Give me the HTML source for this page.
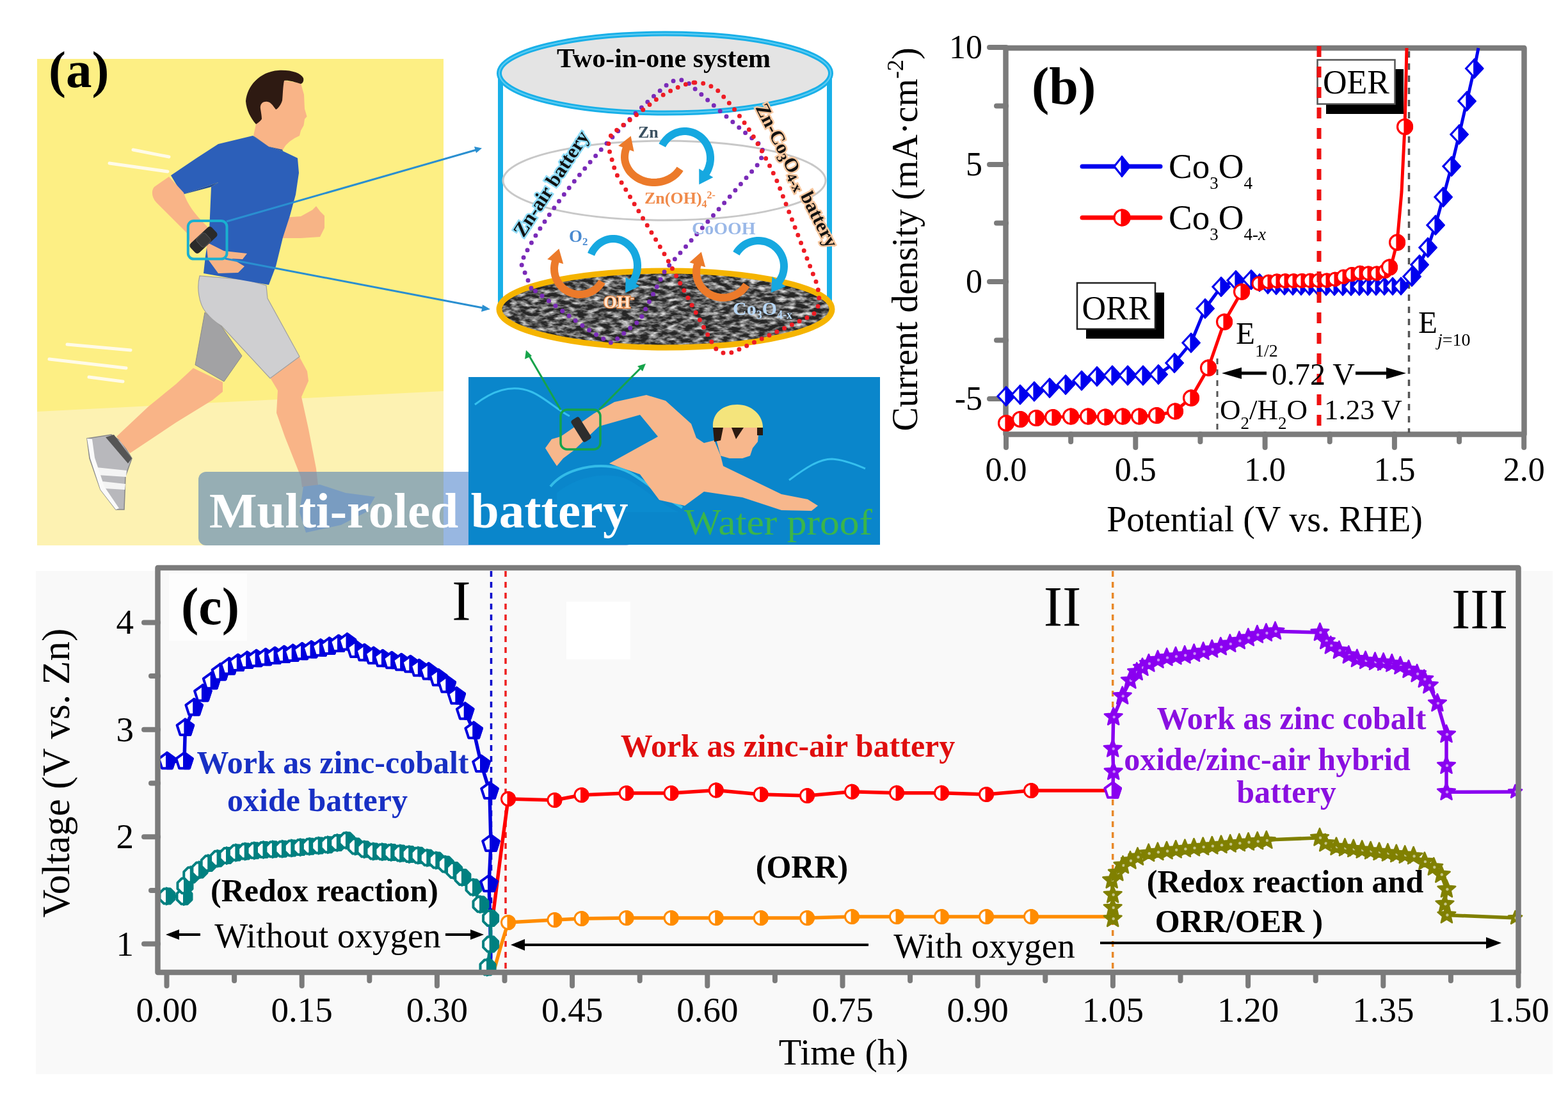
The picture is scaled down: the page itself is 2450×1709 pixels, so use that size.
<!DOCTYPE html>
<html><head><meta charset="utf-8"><title>Multi-roled battery figure</title>
<style>
html,body{margin:0;padding:0;background:#fff;}
body{width:2450px;height:1709px;overflow:hidden;}
svg{display:block;}
.s{font-family:"Liberation Serif","Times New Roman",serif;}
</style></head><body>
<svg width="2450" height="1709" viewBox="0 0 2450 1709">
<rect x="0" y="0" width="2450" height="1709" fill="#fff"/>
<rect x="56" y="892" width="2370" height="786" fill="#f9f9f9"/>
<rect x="58" y="92" width="635" height="760" fill="#fdef84"/>
<polygon points="58,643 693,611 693,852 58,852" fill="#fdf2b2"/>
<line x1="208" y1="234" x2="264" y2="245" stroke="#fffbe8" stroke-width="5" stroke-linecap="round"/>
<line x1="171" y1="255" x2="262" y2="268" stroke="#fffbe8" stroke-width="5" stroke-linecap="round"/>
<line x1="105" y1="538" x2="204" y2="547" stroke="#fffbe8" stroke-width="5" stroke-linecap="round"/>
<line x1="77" y1="561" x2="197" y2="575" stroke="#fffbe8" stroke-width="5" stroke-linecap="round"/>
<line x1="139" y1="589" x2="192" y2="596" stroke="#fffbe8" stroke-width="5" stroke-linecap="round"/>
<path d="M136,685 L174,679 L190,690 L206,716 L196,744 L194,796 L181,796 L157,765 L140,716 Z" fill="#b8b8bc" stroke="#888" stroke-width="1.5"/>
<path d="M165,683 L178,679 L206,716 L200,724 Z" fill="#555"/>
<path d="M150,730 L198,735 L197,745 L152,742 Z M160,752 L196,756 L195,765 L163,763 Z" fill="#f4f4f4"/>
<path d="M136,685 L141,716 L157,765 L181,796 L186,794 L163,760 L148,715 L144,686 Z" fill="#fafafa"/>
<path d="M302,575 L348,597 L348,612 L332,625 L275,660 L203,708 L182,682 L232,635 L275,600 Z" fill="#f9b487"/>
<path d="M422,590 L467,556 L480,580 L482,595 L471,620 L482,670 L494,732 L497,758 L472,761 L470,745 L445,682 L432,645 L434,610 Z" fill="#f9b487"/>
<path d="M474,760 L500,757 L540,770 L586,776 L572,800 L533,820 L478,832 L468,800 Z" fill="#9fb4de"/>
<path d="M320,488 L305,570 L350,596 L378,556 L346,510 Z" fill="#a2a2a4" stroke="#8a8a8a" stroke-width="1"/>
<path d="M312,431 C307,450 311,474 321,487 C329,497 337,504 346,509 L422,591 L468,557 L418,466 L416,446 L384,437 Z" fill="#cfcfd1" stroke="#a0a0a0" stroke-width="1.2"/>
<path d="M440,340 L470,338 L488,328 L494,322 L500,330 L507,337 L507,356 L500,370 L470,372 L440,372 Z" fill="#f7b486"/>
<path d="M267,274 L307,247 L341,225 L395,212 L420,229 L442,236 L465,247 L467,270 L462,304 L453,337 L442,371 L431,416 L420,445 L318,427 L321,400 L327,360 L330,292 L341,285 L285,304 Z" fill="#2c5fb9"/>
<path d="M285,304 L341,285 L330,292 L300,300 Z" fill="#1e4b9b"/>
<path d="M395,212 L420,229 L442,236 L440,230 L418,222 Z" fill="#1e4b9b"/>
<path d="M404,160 L420,150 L444,126 L470,130 L475,148 L476,170 L479.5,182 L476,186 L474.5,196 L470,204 L468,212 L460,216 C452,221 446,226 442,234 L420,229 L396,212 L400,194 L406,186 Z" fill="#f9b487"/>
<path d="M384,158 C386,135 405,112 435,110 C455,109 470,114 474,122 C475,127 473,130 470,131 C460,128 450,125 444,126 C442,135 442,148 441,157 C439,164 434,170 431,171 C427,166 424,160 418,159 C410,158 406,163 407,170 C408,176 409,182 409,186 C406,190 403,192 400,194 C392,185 385,172 384,158 Z" fill="#2e1a12"/>
<path d="M264,276 L287,301 C292,318 305,336 324,354 L326,380 L302,392 L292,364 L244,316 C237,308 236,298 241,292 Z" fill="#f9b487"/>
<path d="M322,378 L350,392 L386,396 L379,405 L362,404 L382,416 L372,426 L341,427 L325,405 Z" fill="#f7b486"/>
<g transform="translate(318,375) rotate(-43)"><rect x="-23" y="-10" width="46" height="20" rx="5" fill="#2a2a2a"/><rect x="-9" y="-9" width="18" height="18" rx="4" fill="#383838" stroke="#555" stroke-width="1"/></g>
<rect x="293.8" y="345" width="60.7" height="59.6" rx="9" fill="none" stroke="#1ab0d0" stroke-width="4"/>
<line x1="354" y1="346" x2="748" y2="233" stroke="#2a8fd0" stroke-width="3"/>
<polygon points="753,231.5 741,229 744,239" fill="#2a8fd0"/>
<line x1="352" y1="404" x2="760" y2="482" stroke="#2a8fd0" stroke-width="3"/>
<polygon points="766,483 754,476 752,487" fill="#2a8fd0"/>
<text x="76" y="135.5" class="s" font-weight="bold" font-size="81">(a)</text>
<defs><filter id="tex" x="0" y="0" width="100%" height="100%"><feTurbulence type="fractalNoise" baseFrequency="0.07 0.17" numOctaves="3" seed="7"/><feColorMatrix type="matrix" values="0 0 0 0 0.72  0 0 0 0 0.72  0 0 0 0 0.72  2.4 0 0 0 -0.9"/></filter><radialGradient id="topg" cx="0.5" cy="0.5" r="0.6"><stop offset="0" stop-color="#efefef"/><stop offset="1" stop-color="#d0d0d0"/></radialGradient><clipPath id="botclip"><ellipse cx="1040" cy="483" rx="258" ry="58"/></clipPath></defs>
<line x1="782" y1="114" x2="782" y2="478" stroke="#19b0e8" stroke-width="8"/>
<line x1="1296" y1="114" x2="1296" y2="478" stroke="#19b0e8" stroke-width="8"/>
<ellipse cx="1038" cy="282" rx="252" ry="62" fill="none" stroke="#c8c8c8" stroke-width="3"/>
<ellipse cx="1040" cy="483" rx="258" ry="58" fill="#6a6a6a"/>
<g clip-path="url(#botclip)"><rect x="780" y="420" width="520" height="125" fill="#262626"/><rect x="780" y="420" width="520" height="125" fill="#fff" filter="url(#tex)"/></g>
<ellipse cx="1040" cy="483" rx="260" ry="60" fill="none" stroke="#f5b400" stroke-width="9"/>
<ellipse cx="1039" cy="114.5" rx="259" ry="62" fill="#e4e4e4" stroke="#19b0e8" stroke-width="8"/><ellipse cx="1039" cy="114.5" rx="259" ry="62" fill="none" stroke="#7fd8f6" stroke-width="2" opacity="0.7"/>
<text x="1037" y="105" text-anchor="middle" class="s" font-weight="bold" font-size="42">Two-in-one system</text>
<path d="M830,450 L814,411 C850,330 960,200 1045,130 C1058,122 1068,124 1076,130 C1110,160 1160,205 1190,228 C1194,240 1190,250 1180,262 L1040,421 L1000,500 L956,536 C920,520 880,485 830,450 Z" fill="none" stroke="#7a2bb8" stroke-width="7" stroke-linecap="round" stroke-dasharray="0,13"/>
<path d="M1084,129 C1070,130 1050,140 1030,152 L955,210 L950,228 L962,270 L1040,400 L1115,540 C1122,552 1135,555 1150,548 L1270,492 C1282,480 1282,462 1275,440 L1215,285 C1190,230 1160,180 1120,140 C1108,132 1096,128 1084,129 Z" fill="none" stroke="#ee1c24" stroke-width="7" stroke-linecap="round" stroke-dasharray="0,13"/>
<polyline fill="none" stroke="#ec7a2a" stroke-width="12" points="1062.6,263.8 1060.9,266.4 1058.9,268.8 1056.8,271.2 1054.4,273.4 1051.9,275.4 1049.2,277.3 1046.3,279.0 1043.3,280.4 1040.2,281.7 1037.0,282.8 1033.7,283.7 1030.3,284.3 1026.9,284.8 1023.4,285.0 1020.0,285.0 1016.6,284.7 1013.1,284.3 1009.8,283.6 1006.5,282.7 1003.3,281.5 1000.2,280.2 997.2,278.7 994.4,277.0 991.7,275.1 989.2,273.0 986.9,270.8 984.7,268.5 982.8,266.0 981.1,263.3 979.7,260.6 978.4,257.8 977.4,254.9 976.7,252.0 976.2,249.0 976.0,246.0 976.1,243.0 976.4,240.1 976.9,237.1 977.7,234.2 978.8,231.3"/><polygon points="985.7,212.6 990.6,236.8 966.2,227.7" fill="#ec7a2a"/>
<polyline fill="none" stroke="#16a8e0" stroke-width="12" points="1034.7,227.3 1036.3,224.3 1038.2,221.5 1040.3,218.9 1042.6,216.4 1045.0,214.2 1047.7,212.2 1050.4,210.4 1053.3,208.8 1056.4,207.5 1059.5,206.5 1062.7,205.7 1065.9,205.2 1069.1,205.0 1072.4,205.1 1075.7,205.4 1078.9,206.0 1082.0,206.9 1085.1,208.1 1088.1,209.5 1090.9,211.2 1093.6,213.1 1096.2,215.2 1098.5,217.6 1100.7,220.1 1102.7,222.8 1104.5,225.7 1106.0,228.7 1107.3,231.9 1108.4,235.1 1109.2,238.4 1109.7,241.8 1110.0,245.2 1110.0,248.7 1109.7,252.1 1109.2,255.5 1108.4,258.8 1107.3,262.0 1106.1,265.2 1104.5,268.2 1102.8,271.1"/><polygon points="1092.3,288.2 1092.2,263.5 1114.4,277.0" fill="#16a8e0"/>
<polyline fill="none" stroke="#ec7a2a" stroke-width="12" points="940.6,440.0 939.1,442.5 937.3,444.8 935.4,447.1 933.4,449.2 931.2,451.1 928.8,452.8 926.4,454.4 923.8,455.8 921.1,457.0 918.4,458.0 915.5,458.8 912.7,459.4 909.8,459.8 906.8,460.0 903.9,459.9 901.0,459.7 898.1,459.2 895.2,458.5 892.5,457.6 889.7,456.5 887.1,455.3 884.6,453.8 882.2,452.1 879.9,450.3 877.7,448.3 875.7,446.1 873.9,443.8 872.2,441.4 870.7,438.9 869.5,436.3 868.4,433.5 867.5,430.8 866.8,427.9 866.3,425.0 866.1,422.1 866.0,419.2 866.2,416.2 866.6,413.3 867.2,410.5 868.0,407.6"/><polygon points="873.4,388.4 880.2,412.2 855.2,405.0" fill="#ec7a2a"/>
<polyline fill="none" stroke="#16a8e0" stroke-width="12" points="923.6,397.3 925.0,394.1 926.7,391.1 928.7,388.3 930.8,385.7 933.1,383.2 935.6,381.0 938.3,379.1 941.1,377.4 944.0,375.9 947.0,374.8 950.1,373.9 953.3,373.3 956.5,373.0 959.7,373.0 962.9,373.3 966.0,373.9 969.1,374.8 972.1,376.0 975.1,377.5 977.9,379.2 980.5,381.2 983.0,383.4 985.3,385.8 987.4,388.5 989.4,391.3 991.1,394.3 992.5,397.4 993.7,400.7 994.7,404.1 995.4,407.5 995.8,411.0 996.0,414.6 995.9,418.1 995.5,421.6 994.9,425.1 994.0,428.5 992.8,431.8 991.4,434.9 989.8,438.0 987.9,440.9"/><polygon points="977.1,457.6 977.6,433.0 999.4,447.1" fill="#16a8e0"/>
<polyline fill="none" stroke="#ec7a2a" stroke-width="12" points="1166.4,445.0 1164.7,447.5 1162.9,449.8 1160.9,452.1 1158.8,454.2 1156.4,456.1 1154.0,457.8 1151.4,459.4 1148.7,460.8 1145.9,462.0 1143.0,463.0 1140.0,463.8 1137.0,464.4 1134.0,464.8 1130.9,465.0 1127.8,464.9 1124.7,464.7 1121.7,464.2 1118.7,463.5 1115.8,462.6 1112.9,461.5 1110.2,460.3 1107.5,458.8 1105.0,457.1 1102.6,455.3 1100.3,453.3 1098.2,451.1 1096.3,448.8 1094.5,446.4 1093.0,443.9 1091.6,441.3 1090.5,438.5 1089.5,435.8 1088.8,432.9 1088.3,430.0 1088.1,427.1 1088.0,424.2 1088.2,421.2 1088.6,418.3 1089.2,415.5 1090.1,412.6"/><polygon points="1095.8,393.5 1102.2,417.3 1077.3,409.9" fill="#ec7a2a"/>
<polyline fill="none" stroke="#16a8e0" stroke-width="12" points="1150.4,396.0 1152.1,393.2 1154.1,390.6 1156.3,388.2 1158.7,385.9 1161.2,383.8 1163.9,382.0 1166.8,380.4 1169.8,379.0 1172.8,377.9 1176.0,377.0 1179.2,376.4 1182.5,376.1 1185.8,376.0 1189.0,376.2 1192.3,376.7 1195.5,377.4 1198.6,378.4 1201.7,379.6 1204.6,381.1 1207.4,382.8 1210.0,384.8 1212.5,386.9 1214.8,389.3 1216.9,391.8 1218.7,394.5 1220.4,397.3 1221.8,400.3 1223.0,403.4 1223.9,406.5 1224.5,409.7 1224.9,413.0 1225.0,416.3 1224.8,419.6 1224.4,422.8 1223.7,426.0 1222.8,429.2 1221.6,432.2 1220.1,435.1 1218.4,438.0 1216.5,440.6"/><polygon points="1204.9,456.9 1206.5,432.2 1227.7,447.4" fill="#16a8e0"/>
<text x="997" y="215" class="s" font-weight="bold" font-size="26" fill="#3a5060">Zn</text>
<text x="1007" y="318" class="s" font-weight="bold" font-size="26" fill="#f08a4a">Zn(OH)<tspan font-size="16" dy="6">4</tspan><tspan font-size="16" dy="-14">2-</tspan></text>
<text x="1081" y="366" class="s" font-weight="bold" font-size="28" fill="#9ab8e8">CoOOH</text>
<text x="889" y="378" class="s" font-weight="bold" font-size="27" fill="#4a8ad0">O<tspan font-size="17" dy="5">2</tspan></text>
<text x="943" y="481" class="s" font-weight="bold" font-size="27" fill="#ffe6d0" stroke="#e8803a" stroke-width="2.5" style="paint-order:stroke">OH<tspan font-size="17" dy="-10">-</tspan></text>
<text x="1145" y="492" class="s" font-weight="bold" font-size="30" fill="#b8d8f8">Co<tspan font-size="18" dy="6">3</tspan><tspan dy="-6">O</tspan><tspan font-size="18" dy="6">4-x</tspan></text>
<text transform="translate(818,372) rotate(-57)" class="s" font-weight="bold" font-size="31" fill="#111" style="paint-order:stroke" stroke="#8fdcf8" stroke-width="5">Zn-air battery</text>
<text transform="translate(1180,168) rotate(63)" class="s" font-weight="bold" font-size="30" fill="#111" style="paint-order:stroke" stroke="#f8c8a0" stroke-width="5">Zn-Co<tspan font-size="22" dy="6">3</tspan><tspan dy="-6">O</tspan><tspan font-size="22" dy="6">4-x</tspan><tspan dy="-6"> battery</tspan></text>
<clipPath id="bclip"><rect x="310" y="737" width="680" height="115" rx="12"/></clipPath><g clip-path="url(#bclip)"><rect x="310" y="737" width="383" height="115" fill="rgb(106,145,181)" fill-opacity="0.7"/><rect x="693" y="737" width="300" height="115" fill="rgb(152,183,225)"/></g>
<rect x="732" y="589" width="643" height="262" fill="#0a86cb"/>
<path d="M742,632 C770,610 800,600 830,612 C850,620 870,640 890,650" fill="none" stroke="#35c0ee" stroke-width="3"/>
<path d="M860,760 C880,735 920,725 955,729 C990,733 1010,760 1066,793" fill="none" stroke="#33bce8" stroke-width="4"/>
<path d="M870,770 C900,745 940,738 970,745 C1000,755 1020,780 1060,800 L870,800 Z" fill="#0b8fd2" opacity="0.6"/>
<path d="M1233,750 C1260,730 1280,717 1300,717 C1320,718 1340,727 1352,732" fill="none" stroke="#35c0ee" stroke-width="3"/>
<path d="M852,700 L862,686 L876,682 L928,646 L960,628 L1010,617 L1040,626 L1080,662 L1088,684 L1100,692 L1116,688 L1126,712 L1130,728 L1221,772 L1262,780 L1278,790 L1268,798 L1221,797 L1160,777 L1100,768 L1070,790 L1030,781 L1000,741 L952,724 L1028,682 L1000,648 L936,666 L896,704 L880,716 L870,728 L862,716 Z" fill="#f7b78c"/>
<path d="M1122,668 L1186,668 L1184,690 L1176,700 L1172,712 L1160,716 L1140,716 L1126,712 L1120,690 Z" fill="#f7b78c"/>
<path d="M1114,668 C1112,645 1130,632 1152,632 C1174,632 1192,648 1192,668 Z" fill="#f4e47c"/>
<path d="M1114,668 L1130,668 L1126,688 L1116,690 Z M1143,668 L1162,668 L1150,686 Z M1183,668 L1192,668 L1192,680 L1183,680 Z" fill="#2b1a10"/>
<g transform="translate(908,671) rotate(58)"><rect x="-20" y="-7.5" width="40" height="15" rx="4" fill="#2d2d2d"/></g>
<rect x="876" y="640" width="62" height="62" rx="10" fill="none" stroke="#16a34a" stroke-width="3.5"/>
<line x1="876" y1="640" x2="824" y2="551" stroke="#16a34a" stroke-width="3"/>
<polygon points="822,547 820,561 831,556" fill="#16a34a"/>
<line x1="936" y1="640" x2="1004" y2="572" stroke="#16a34a" stroke-width="3"/>
<polygon points="1009,568 996,572 1004,580" fill="#16a34a"/>
<text x="327" y="824" class="s" font-weight="bold" font-size="79" fill="#fff">Multi-roled battery</text>
<text x="1069" y="835" class="s" font-size="57" fill="#3bb54a" textLength="294" lengthAdjust="spacingAndGlyphs">Water proof</text>
<rect x="1571.5" y="75" width="810" height="603.5" fill="none" stroke="#7b7b7b" stroke-width="8.5" stroke-linejoin="round"/>
<line x1="1546" y1="74.0" x2="1572" y2="74.0" stroke="#7b7b7b" stroke-width="8" stroke-linecap="round"/>
<line x1="1546" y1="257.0" x2="1572" y2="257.0" stroke="#7b7b7b" stroke-width="8" stroke-linecap="round"/>
<line x1="1546" y1="440.0" x2="1572" y2="440.0" stroke="#7b7b7b" stroke-width="8" stroke-linecap="round"/>
<line x1="1546" y1="623.0" x2="1572" y2="623.0" stroke="#7b7b7b" stroke-width="8" stroke-linecap="round"/>
<line x1="1557" y1="165.5" x2="1572" y2="165.5" stroke="#7b7b7b" stroke-width="8" stroke-linecap="round"/>
<line x1="1557" y1="348.5" x2="1572" y2="348.5" stroke="#7b7b7b" stroke-width="8" stroke-linecap="round"/>
<line x1="1557" y1="531.5" x2="1572" y2="531.5" stroke="#7b7b7b" stroke-width="8" stroke-linecap="round"/>
<line x1="1572.0" y1="678" x2="1572.0" y2="699" stroke="#7b7b7b" stroke-width="8" stroke-linecap="round"/>
<line x1="1774.3" y1="678" x2="1774.3" y2="699" stroke="#7b7b7b" stroke-width="8" stroke-linecap="round"/>
<line x1="1976.6" y1="678" x2="1976.6" y2="699" stroke="#7b7b7b" stroke-width="8" stroke-linecap="round"/>
<line x1="2178.9" y1="678" x2="2178.9" y2="699" stroke="#7b7b7b" stroke-width="8" stroke-linecap="round"/>
<line x1="2381.2" y1="678" x2="2381.2" y2="699" stroke="#7b7b7b" stroke-width="8" stroke-linecap="round"/>
<line x1="1673.15" y1="678" x2="1673.15" y2="690" stroke="#7b7b7b" stroke-width="8" stroke-linecap="round"/>
<line x1="1875.45" y1="678" x2="1875.45" y2="690" stroke="#7b7b7b" stroke-width="8" stroke-linecap="round"/>
<line x1="2077.75" y1="678" x2="2077.75" y2="690" stroke="#7b7b7b" stroke-width="8" stroke-linecap="round"/>
<line x1="2280.05" y1="678" x2="2280.05" y2="690" stroke="#7b7b7b" stroke-width="8" stroke-linecap="round"/>
<text x="1535" y="91.0" text-anchor="end" class="s" font-size="52">10</text>
<text x="1535" y="274.0" text-anchor="end" class="s" font-size="52">5</text>
<text x="1535" y="457.0" text-anchor="end" class="s" font-size="52">0</text>
<text x="1535" y="640.0" text-anchor="end" class="s" font-size="52">-5</text>
<text x="1572.0" y="751" text-anchor="middle" class="s" font-size="52">0.0</text>
<text x="1774.3" y="751" text-anchor="middle" class="s" font-size="52">0.5</text>
<text x="1976.6" y="751" text-anchor="middle" class="s" font-size="52">1.0</text>
<text x="2178.9" y="751" text-anchor="middle" class="s" font-size="52">1.5</text>
<text x="2381.2" y="751" text-anchor="middle" class="s" font-size="52">2.0</text>
<text x="1976" y="830" text-anchor="middle" class="s" font-size="56">Potential (V vs. RHE)</text>
<text transform="translate(1433,374) rotate(-90)" text-anchor="middle" class="s" font-size="56">Current density (mA·cm<tspan font-size="36" dy="-22">-2</tspan><tspan dy="22">)</tspan></text>
<line x1="1902" y1="560" x2="1902" y2="676" stroke="#555" stroke-width="3" stroke-dasharray="9,8"/>
<line x1="2201.5" y1="80" x2="2201.5" y2="676" stroke="#555" stroke-width="3.5" stroke-dasharray="10,9"/>
<polyline fill="none" stroke="#0000ee" stroke-width="5" stroke-linejoin="round" points="1572,619 1594,616.5 1616,611.5 1640,606 1665,601 1690,594.5 1714,588 1738,586.5 1762,586.5 1786,586.5 1810,585 1835,567 1861,535.5 1883,482 1908,448 1931,438 1955,437 1978,445 2000,447 2100,448 2196,447 2206,432 2218,413.6 2231,386.7 2243,351.7 2255,307.8 2268,259.8 2280,210 2292,158 2303.7,107 2310,75"/>
<polyline fill="none" stroke="#ff0000" stroke-width="5" stroke-linejoin="round" points="1572,661 1594,655 1619,653 1645,652 1673,650.5 1700,650.5 1727,651.5 1754,650.5 1780,650.5 1807,649 1836,642.5 1861,621.7 1888,574.7 1913,502.8 1940,455.8 1969,442 1990,439 2080,438 2100,432 2120,426 2140,427 2160,427 2171,417.6 2176,406 2183,378.7 2190,300 2195,198 2198,75"/>
<polygon points="1572,605.0 1585,619.0 1572,633.0 1559,619.0" fill="#fff" stroke="#0000ee" stroke-width="3.2"/><polygon points="1572,605.0 1585,619.0 1572,633.0" fill="#0000ee" stroke="#0000ee" stroke-width="3.2" stroke-linejoin="round"/>
<polygon points="1594,602.5 1607,616.5 1594,630.5 1581,616.5" fill="#fff" stroke="#0000ee" stroke-width="3.2"/><polygon points="1594,602.5 1607,616.5 1594,630.5" fill="#0000ee" stroke="#0000ee" stroke-width="3.2" stroke-linejoin="round"/>
<polygon points="1616,597.5 1629,611.5 1616,625.5 1603,611.5" fill="#fff" stroke="#0000ee" stroke-width="3.2"/><polygon points="1616,597.5 1629,611.5 1616,625.5" fill="#0000ee" stroke="#0000ee" stroke-width="3.2" stroke-linejoin="round"/>
<polygon points="1640,592.0 1653,606.0 1640,620.0 1627,606.0" fill="#fff" stroke="#0000ee" stroke-width="3.2"/><polygon points="1640,592.0 1653,606.0 1640,620.0" fill="#0000ee" stroke="#0000ee" stroke-width="3.2" stroke-linejoin="round"/>
<polygon points="1665,587.0 1678,601.0 1665,615.0 1652,601.0" fill="#fff" stroke="#0000ee" stroke-width="3.2"/><polygon points="1665,587.0 1678,601.0 1665,615.0" fill="#0000ee" stroke="#0000ee" stroke-width="3.2" stroke-linejoin="round"/>
<polygon points="1690,580.5 1703,594.5 1690,608.5 1677,594.5" fill="#fff" stroke="#0000ee" stroke-width="3.2"/><polygon points="1690,580.5 1703,594.5 1690,608.5" fill="#0000ee" stroke="#0000ee" stroke-width="3.2" stroke-linejoin="round"/>
<polygon points="1714,574.0 1727,588.0 1714,602.0 1701,588.0" fill="#fff" stroke="#0000ee" stroke-width="3.2"/><polygon points="1714,574.0 1727,588.0 1714,602.0" fill="#0000ee" stroke="#0000ee" stroke-width="3.2" stroke-linejoin="round"/>
<polygon points="1738,572.5 1751,586.5 1738,600.5 1725,586.5" fill="#fff" stroke="#0000ee" stroke-width="3.2"/><polygon points="1738,572.5 1751,586.5 1738,600.5" fill="#0000ee" stroke="#0000ee" stroke-width="3.2" stroke-linejoin="round"/>
<polygon points="1762,572.5 1775,586.5 1762,600.5 1749,586.5" fill="#fff" stroke="#0000ee" stroke-width="3.2"/><polygon points="1762,572.5 1775,586.5 1762,600.5" fill="#0000ee" stroke="#0000ee" stroke-width="3.2" stroke-linejoin="round"/>
<polygon points="1786,572.5 1799,586.5 1786,600.5 1773,586.5" fill="#fff" stroke="#0000ee" stroke-width="3.2"/><polygon points="1786,572.5 1799,586.5 1786,600.5" fill="#0000ee" stroke="#0000ee" stroke-width="3.2" stroke-linejoin="round"/>
<polygon points="1810,571.0 1823,585.0 1810,599.0 1797,585.0" fill="#fff" stroke="#0000ee" stroke-width="3.2"/><polygon points="1810,571.0 1823,585.0 1810,599.0" fill="#0000ee" stroke="#0000ee" stroke-width="3.2" stroke-linejoin="round"/>
<polygon points="1835,553.0 1848,567.0 1835,581.0 1822,567.0" fill="#fff" stroke="#0000ee" stroke-width="3.2"/><polygon points="1835,553.0 1848,567.0 1835,581.0" fill="#0000ee" stroke="#0000ee" stroke-width="3.2" stroke-linejoin="round"/>
<polygon points="1861,521.5 1874,535.5 1861,549.5 1848,535.5" fill="#fff" stroke="#0000ee" stroke-width="3.2"/><polygon points="1861,521.5 1874,535.5 1861,549.5" fill="#0000ee" stroke="#0000ee" stroke-width="3.2" stroke-linejoin="round"/>
<polygon points="1883,468.0 1896,482.0 1883,496.0 1870,482.0" fill="#fff" stroke="#0000ee" stroke-width="3.2"/><polygon points="1883,468.0 1896,482.0 1883,496.0" fill="#0000ee" stroke="#0000ee" stroke-width="3.2" stroke-linejoin="round"/>
<polygon points="1908,434.0 1921,448.0 1908,462.0 1895,448.0" fill="#fff" stroke="#0000ee" stroke-width="3.2"/><polygon points="1908,434.0 1921,448.0 1908,462.0" fill="#0000ee" stroke="#0000ee" stroke-width="3.2" stroke-linejoin="round"/>
<polygon points="1931,424.0 1944,438.0 1931,452.0 1918,438.0" fill="#fff" stroke="#0000ee" stroke-width="3.2"/><polygon points="1931,424.0 1944,438.0 1931,452.0" fill="#0000ee" stroke="#0000ee" stroke-width="3.2" stroke-linejoin="round"/>
<polygon points="1955,423.0 1968,437.0 1955,451.0 1942,437.0" fill="#fff" stroke="#0000ee" stroke-width="3.2"/><polygon points="1955,423.0 1968,437.0 1955,451.0" fill="#0000ee" stroke="#0000ee" stroke-width="3.2" stroke-linejoin="round"/>
<polygon points="1968,429.0217391304348 1979,441.5217391304348 1968,454.0217391304348 1957,441.5217391304348" fill="#fff" stroke="#0000ee" stroke-width="3"/><polygon points="1968,429.0217391304348 1979,441.5217391304348 1968,454.0217391304348" fill="#0000ee" stroke="#0000ee" stroke-width="3" stroke-linejoin="round"/>
<polygon points="1981,432.77272727272725 1992,445.27272727272725 1981,457.77272727272725 1970,445.27272727272725" fill="#fff" stroke="#0000ee" stroke-width="3"/><polygon points="1981,432.77272727272725 1992,445.27272727272725 1981,457.77272727272725" fill="#0000ee" stroke="#0000ee" stroke-width="3" stroke-linejoin="round"/>
<polygon points="1994,433.95454545454544 2005,446.45454545454544 1994,458.95454545454544 1983,446.45454545454544" fill="#fff" stroke="#0000ee" stroke-width="3"/><polygon points="1994,433.95454545454544 2005,446.45454545454544 1994,458.95454545454544" fill="#0000ee" stroke="#0000ee" stroke-width="3" stroke-linejoin="round"/>
<polygon points="2007,434.57 2018,447.07 2007,459.57 1996,447.07" fill="#fff" stroke="#0000ee" stroke-width="3"/><polygon points="2007,434.57 2018,447.07 2007,459.57" fill="#0000ee" stroke="#0000ee" stroke-width="3" stroke-linejoin="round"/>
<polygon points="2020,434.7 2031,447.2 2020,459.7 2009,447.2" fill="#fff" stroke="#0000ee" stroke-width="3"/><polygon points="2020,434.7 2031,447.2 2020,459.7" fill="#0000ee" stroke="#0000ee" stroke-width="3" stroke-linejoin="round"/>
<polygon points="2033,434.83 2044,447.33 2033,459.83 2022,447.33" fill="#fff" stroke="#0000ee" stroke-width="3"/><polygon points="2033,434.83 2044,447.33 2033,459.83" fill="#0000ee" stroke="#0000ee" stroke-width="3" stroke-linejoin="round"/>
<polygon points="2046,434.96 2057,447.46 2046,459.96 2035,447.46" fill="#fff" stroke="#0000ee" stroke-width="3"/><polygon points="2046,434.96 2057,447.46 2046,459.96" fill="#0000ee" stroke="#0000ee" stroke-width="3" stroke-linejoin="round"/>
<polygon points="2059,435.09 2070,447.59 2059,460.09 2048,447.59" fill="#fff" stroke="#0000ee" stroke-width="3"/><polygon points="2059,435.09 2070,447.59 2059,460.09" fill="#0000ee" stroke="#0000ee" stroke-width="3" stroke-linejoin="round"/>
<polygon points="2072,435.22 2083,447.72 2072,460.22 2061,447.72" fill="#fff" stroke="#0000ee" stroke-width="3"/><polygon points="2072,435.22 2083,447.72 2072,460.22" fill="#0000ee" stroke="#0000ee" stroke-width="3" stroke-linejoin="round"/>
<polygon points="2085,435.35 2096,447.85 2085,460.35 2074,447.85" fill="#fff" stroke="#0000ee" stroke-width="3"/><polygon points="2085,435.35 2096,447.85 2085,460.35" fill="#0000ee" stroke="#0000ee" stroke-width="3" stroke-linejoin="round"/>
<polygon points="2098,435.48 2109,447.98 2098,460.48 2087,447.98" fill="#fff" stroke="#0000ee" stroke-width="3"/><polygon points="2098,435.48 2109,447.98 2098,460.48" fill="#0000ee" stroke="#0000ee" stroke-width="3" stroke-linejoin="round"/>
<polygon points="2111,435.3854166666667 2122,447.8854166666667 2111,460.3854166666667 2100,447.8854166666667" fill="#fff" stroke="#0000ee" stroke-width="3"/><polygon points="2111,435.3854166666667 2122,447.8854166666667 2111,460.3854166666667" fill="#0000ee" stroke="#0000ee" stroke-width="3" stroke-linejoin="round"/>
<polygon points="2124,435.25 2135,447.75 2124,460.25 2113,447.75" fill="#fff" stroke="#0000ee" stroke-width="3"/><polygon points="2124,435.25 2135,447.75 2124,460.25" fill="#0000ee" stroke="#0000ee" stroke-width="3" stroke-linejoin="round"/>
<polygon points="2137,435.1145833333333 2148,447.6145833333333 2137,460.1145833333333 2126,447.6145833333333" fill="#fff" stroke="#0000ee" stroke-width="3"/><polygon points="2137,435.1145833333333 2148,447.6145833333333 2137,460.1145833333333" fill="#0000ee" stroke="#0000ee" stroke-width="3" stroke-linejoin="round"/>
<polygon points="2150,434.9791666666667 2161,447.4791666666667 2150,459.9791666666667 2139,447.4791666666667" fill="#fff" stroke="#0000ee" stroke-width="3"/><polygon points="2150,434.9791666666667 2161,447.4791666666667 2150,459.9791666666667" fill="#0000ee" stroke="#0000ee" stroke-width="3" stroke-linejoin="round"/>
<polygon points="2163,434.84375 2174,447.34375 2163,459.84375 2152,447.34375" fill="#fff" stroke="#0000ee" stroke-width="3"/><polygon points="2163,434.84375 2174,447.34375 2163,459.84375" fill="#0000ee" stroke="#0000ee" stroke-width="3" stroke-linejoin="round"/>
<polygon points="2176,434.7083333333333 2187,447.2083333333333 2176,459.7083333333333 2165,447.2083333333333" fill="#fff" stroke="#0000ee" stroke-width="3"/><polygon points="2176,434.7083333333333 2187,447.2083333333333 2176,459.7083333333333" fill="#0000ee" stroke="#0000ee" stroke-width="3" stroke-linejoin="round"/>
<polygon points="2189,434.5729166666667 2200,447.0729166666667 2189,459.5729166666667 2178,447.0729166666667" fill="#fff" stroke="#0000ee" stroke-width="3"/><polygon points="2189,434.5729166666667 2200,447.0729166666667 2189,459.5729166666667" fill="#0000ee" stroke="#0000ee" stroke-width="3" stroke-linejoin="round"/>
<polygon points="2206,418.0 2219,432.0 2206,446.0 2193,432.0" fill="#fff" stroke="#0000ee" stroke-width="3.2"/><polygon points="2206,418.0 2219,432.0 2206,446.0" fill="#0000ee" stroke="#0000ee" stroke-width="3.2" stroke-linejoin="round"/>
<polygon points="2218,399.6 2231,413.6 2218,427.6 2205,413.6" fill="#fff" stroke="#0000ee" stroke-width="3.2"/><polygon points="2218,399.6 2231,413.6 2218,427.6" fill="#0000ee" stroke="#0000ee" stroke-width="3.2" stroke-linejoin="round"/>
<polygon points="2231,372.7 2244,386.7 2231,400.7 2218,386.7" fill="#fff" stroke="#0000ee" stroke-width="3.2"/><polygon points="2231,372.7 2244,386.7 2231,400.7" fill="#0000ee" stroke="#0000ee" stroke-width="3.2" stroke-linejoin="round"/>
<polygon points="2243,337.7 2256,351.7 2243,365.7 2230,351.7" fill="#fff" stroke="#0000ee" stroke-width="3.2"/><polygon points="2243,337.7 2256,351.7 2243,365.7" fill="#0000ee" stroke="#0000ee" stroke-width="3.2" stroke-linejoin="round"/>
<polygon points="2255,293.8 2268,307.8 2255,321.8 2242,307.8" fill="#fff" stroke="#0000ee" stroke-width="3.2"/><polygon points="2255,293.8 2268,307.8 2255,321.8" fill="#0000ee" stroke="#0000ee" stroke-width="3.2" stroke-linejoin="round"/>
<polygon points="2268,245.8 2281,259.8 2268,273.8 2255,259.8" fill="#fff" stroke="#0000ee" stroke-width="3.2"/><polygon points="2268,245.8 2281,259.8 2268,273.8" fill="#0000ee" stroke="#0000ee" stroke-width="3.2" stroke-linejoin="round"/>
<polygon points="2280,196.0 2293,210.0 2280,224.0 2267,210.0" fill="#fff" stroke="#0000ee" stroke-width="3.2"/><polygon points="2280,196.0 2293,210.0 2280,224.0" fill="#0000ee" stroke="#0000ee" stroke-width="3.2" stroke-linejoin="round"/>
<polygon points="2292,144.0 2305,158.0 2292,172.0 2279,158.0" fill="#fff" stroke="#0000ee" stroke-width="3.2"/><polygon points="2292,144.0 2305,158.0 2292,172.0" fill="#0000ee" stroke="#0000ee" stroke-width="3.2" stroke-linejoin="round"/>
<polygon points="2303.7,93.0 2316.7,107.0 2303.7,121.0 2290.7,107.0" fill="#fff" stroke="#0000ee" stroke-width="3.2"/><polygon points="2303.7,93.0 2316.7,107.0 2303.7,121.0" fill="#0000ee" stroke="#0000ee" stroke-width="3.2" stroke-linejoin="round"/>
<circle cx="1572" cy="661.0" r="11.5" fill="#fff" stroke="#ff0000" stroke-width="3.2"/><path d="M1572,649.5 A11.5,11.5 0 0 1 1572,672.5 Z" fill="#ff0000" stroke="#ff0000" stroke-width="3.2"/>
<circle cx="1594" cy="655.0" r="11.5" fill="#fff" stroke="#ff0000" stroke-width="3.2"/><path d="M1594,643.5 A11.5,11.5 0 0 1 1594,666.5 Z" fill="#ff0000" stroke="#ff0000" stroke-width="3.2"/>
<circle cx="1619" cy="653.0" r="11.5" fill="#fff" stroke="#ff0000" stroke-width="3.2"/><path d="M1619,641.5 A11.5,11.5 0 0 1 1619,664.5 Z" fill="#ff0000" stroke="#ff0000" stroke-width="3.2"/>
<circle cx="1645" cy="652.0" r="11.5" fill="#fff" stroke="#ff0000" stroke-width="3.2"/><path d="M1645,640.5 A11.5,11.5 0 0 1 1645,663.5 Z" fill="#ff0000" stroke="#ff0000" stroke-width="3.2"/>
<circle cx="1673" cy="650.5" r="11.5" fill="#fff" stroke="#ff0000" stroke-width="3.2"/><path d="M1673,639.0 A11.5,11.5 0 0 1 1673,662.0 Z" fill="#ff0000" stroke="#ff0000" stroke-width="3.2"/>
<circle cx="1700" cy="650.5" r="11.5" fill="#fff" stroke="#ff0000" stroke-width="3.2"/><path d="M1700,639.0 A11.5,11.5 0 0 1 1700,662.0 Z" fill="#ff0000" stroke="#ff0000" stroke-width="3.2"/>
<circle cx="1727" cy="651.5" r="11.5" fill="#fff" stroke="#ff0000" stroke-width="3.2"/><path d="M1727,640.0 A11.5,11.5 0 0 1 1727,663.0 Z" fill="#ff0000" stroke="#ff0000" stroke-width="3.2"/>
<circle cx="1754" cy="650.5" r="11.5" fill="#fff" stroke="#ff0000" stroke-width="3.2"/><path d="M1754,639.0 A11.5,11.5 0 0 1 1754,662.0 Z" fill="#ff0000" stroke="#ff0000" stroke-width="3.2"/>
<circle cx="1780" cy="650.5" r="11.5" fill="#fff" stroke="#ff0000" stroke-width="3.2"/><path d="M1780,639.0 A11.5,11.5 0 0 1 1780,662.0 Z" fill="#ff0000" stroke="#ff0000" stroke-width="3.2"/>
<circle cx="1807" cy="649.0" r="11.5" fill="#fff" stroke="#ff0000" stroke-width="3.2"/><path d="M1807,637.5 A11.5,11.5 0 0 1 1807,660.5 Z" fill="#ff0000" stroke="#ff0000" stroke-width="3.2"/>
<circle cx="1836" cy="642.5" r="11.5" fill="#fff" stroke="#ff0000" stroke-width="3.2"/><path d="M1836,631.0 A11.5,11.5 0 0 1 1836,654.0 Z" fill="#ff0000" stroke="#ff0000" stroke-width="3.2"/>
<circle cx="1861" cy="621.7" r="11.5" fill="#fff" stroke="#ff0000" stroke-width="3.2"/><path d="M1861,610.2 A11.5,11.5 0 0 1 1861,633.2 Z" fill="#ff0000" stroke="#ff0000" stroke-width="3.2"/>
<circle cx="1888" cy="574.7" r="11.5" fill="#fff" stroke="#ff0000" stroke-width="3.2"/><path d="M1888,563.2 A11.5,11.5 0 0 1 1888,586.2 Z" fill="#ff0000" stroke="#ff0000" stroke-width="3.2"/>
<circle cx="1913" cy="502.8" r="11.5" fill="#fff" stroke="#ff0000" stroke-width="3.2"/><path d="M1913,491.3 A11.5,11.5 0 0 1 1913,514.3 Z" fill="#ff0000" stroke="#ff0000" stroke-width="3.2"/>
<circle cx="1940" cy="455.8" r="11.5" fill="#fff" stroke="#ff0000" stroke-width="3.2"/><path d="M1940,444.3 A11.5,11.5 0 0 1 1940,467.3 Z" fill="#ff0000" stroke="#ff0000" stroke-width="3.2"/>
<circle cx="1967" cy="442.951724137931" r="10" fill="#fff" stroke="#ff0000" stroke-width="3"/><path d="M1967,432.951724137931 A10,10 0 0 1 1967,452.951724137931 Z" fill="#ff0000" stroke="#ff0000" stroke-width="3"/>
<circle cx="1982" cy="440.14285714285717" r="10" fill="#fff" stroke="#ff0000" stroke-width="3"/><path d="M1982,430.14285714285717 A10,10 0 0 1 1982,450.14285714285717 Z" fill="#ff0000" stroke="#ff0000" stroke-width="3"/>
<circle cx="1995" cy="438.94444444444446" r="10" fill="#fff" stroke="#ff0000" stroke-width="3"/><path d="M1995,428.94444444444446 A10,10 0 0 1 1995,448.94444444444446 Z" fill="#ff0000" stroke="#ff0000" stroke-width="3"/>
<circle cx="2008" cy="438.8" r="10" fill="#fff" stroke="#ff0000" stroke-width="3"/><path d="M2008,428.8 A10,10 0 0 1 2008,448.8 Z" fill="#ff0000" stroke="#ff0000" stroke-width="3"/>
<circle cx="2021" cy="438.65555555555557" r="10" fill="#fff" stroke="#ff0000" stroke-width="3"/><path d="M2021,428.65555555555557 A10,10 0 0 1 2021,448.65555555555557 Z" fill="#ff0000" stroke="#ff0000" stroke-width="3"/>
<circle cx="2034" cy="438.5111111111111" r="10" fill="#fff" stroke="#ff0000" stroke-width="3"/><path d="M2034,428.5111111111111 A10,10 0 0 1 2034,448.5111111111111 Z" fill="#ff0000" stroke="#ff0000" stroke-width="3"/>
<circle cx="2047" cy="438.3666666666667" r="10" fill="#fff" stroke="#ff0000" stroke-width="3"/><path d="M2047,428.3666666666667 A10,10 0 0 1 2047,448.3666666666667 Z" fill="#ff0000" stroke="#ff0000" stroke-width="3"/>
<circle cx="2060" cy="438.22222222222223" r="10" fill="#fff" stroke="#ff0000" stroke-width="3"/><path d="M2060,428.22222222222223 A10,10 0 0 1 2060,448.22222222222223 Z" fill="#ff0000" stroke="#ff0000" stroke-width="3"/>
<circle cx="2073" cy="438.0777777777778" r="10" fill="#fff" stroke="#ff0000" stroke-width="3"/><path d="M2073,428.0777777777778 A10,10 0 0 1 2073,448.0777777777778 Z" fill="#ff0000" stroke="#ff0000" stroke-width="3"/>
<circle cx="2086" cy="436.2" r="10" fill="#fff" stroke="#ff0000" stroke-width="3"/><path d="M2086,426.2 A10,10 0 0 1 2086,446.2 Z" fill="#ff0000" stroke="#ff0000" stroke-width="3"/>
<circle cx="2099" cy="432.3" r="10" fill="#fff" stroke="#ff0000" stroke-width="3"/><path d="M2099,422.3 A10,10 0 0 1 2099,442.3 Z" fill="#ff0000" stroke="#ff0000" stroke-width="3"/>
<circle cx="2112" cy="428.4" r="10" fill="#fff" stroke="#ff0000" stroke-width="3"/><path d="M2112,418.4 A10,10 0 0 1 2112,438.4 Z" fill="#ff0000" stroke="#ff0000" stroke-width="3"/>
<circle cx="2125" cy="426.25" r="10" fill="#fff" stroke="#ff0000" stroke-width="3"/><path d="M2125,416.25 A10,10 0 0 1 2125,436.25 Z" fill="#ff0000" stroke="#ff0000" stroke-width="3"/>
<circle cx="2138" cy="426.9" r="10" fill="#fff" stroke="#ff0000" stroke-width="3"/><path d="M2138,416.9 A10,10 0 0 1 2138,436.9 Z" fill="#ff0000" stroke="#ff0000" stroke-width="3"/>
<circle cx="2151" cy="427.0" r="10" fill="#fff" stroke="#ff0000" stroke-width="3"/><path d="M2151,417.0 A10,10 0 0 1 2151,437.0 Z" fill="#ff0000" stroke="#ff0000" stroke-width="3"/>
<circle cx="2164" cy="423.58181818181816" r="10" fill="#fff" stroke="#ff0000" stroke-width="3"/><path d="M2164,413.58181818181816 A10,10 0 0 1 2164,433.58181818181816 Z" fill="#ff0000" stroke="#ff0000" stroke-width="3"/>
<circle cx="2171" cy="417.6" r="11.5" fill="#fff" stroke="#ff0000" stroke-width="3.2"/><path d="M2171,406.1 A11.5,11.5 0 0 1 2171,429.1 Z" fill="#ff0000" stroke="#ff0000" stroke-width="3.2"/>
<circle cx="2183" cy="378.7" r="11.5" fill="#fff" stroke="#ff0000" stroke-width="3.2"/><path d="M2183,367.2 A11.5,11.5 0 0 1 2183,390.2 Z" fill="#ff0000" stroke="#ff0000" stroke-width="3.2"/>
<circle cx="2195" cy="198.0" r="11.5" fill="#fff" stroke="#ff0000" stroke-width="3.2"/><path d="M2195,186.5 A11.5,11.5 0 0 1 2195,209.5 Z" fill="#ff0000" stroke="#ff0000" stroke-width="3.2"/>
<text x="1612" y="162" class="s" font-weight="bold" font-size="82">(b)</text>
<line x1="1691" y1="260" x2="1813" y2="260" stroke="#0000ee" stroke-width="7" stroke-linecap="round"/>
<polygon points="1753,245 1765,260 1753,275 1741,260" fill="#fff" stroke="#0000ee" stroke-width="3.2"/><polygon points="1753,245 1765,260 1753,275" fill="#0000ee" stroke="#0000ee" stroke-width="3.2" stroke-linejoin="round"/>
<line x1="1691" y1="340" x2="1813" y2="340" stroke="#ff0000" stroke-width="7" stroke-linecap="round"/>
<circle cx="1753" cy="340" r="12" fill="#fff" stroke="#ff0000" stroke-width="3.2"/><path d="M1753,328 A12,12 0 0 1 1753,352 Z" fill="#ff0000" stroke="#ff0000" stroke-width="3.2"/>
<text x="1826" y="277.5" class="s" font-size="55">Co<tspan font-size="27" dy="17">3</tspan><tspan dy="-17">O</tspan><tspan font-size="27" dy="17">4</tspan></text>
<text x="1826" y="357.5" class="s" font-size="55">Co<tspan font-size="27" dy="17">3</tspan><tspan dy="-17">O</tspan><tspan font-size="27" dy="17">4-<tspan font-style="italic">x</tspan></tspan></text>
<rect x="1697" y="457" width="122" height="72" fill="#000"/>
<rect x="1683" y="442" width="122" height="72" fill="#fff" stroke="#222" stroke-width="2.5"/>
<text x="1744" y="499" text-anchor="middle" class="s" font-size="52">ORR</text>
<rect x="2072" y="108" width="121" height="70" fill="#000"/>
<rect x="2058.5" y="93.5" width="121" height="69" fill="#fff" stroke="#555" stroke-width="2.5"/>
<text x="2119" y="146" text-anchor="middle" class="s" font-size="52">OER</text>
<line x1="2061" y1="72" x2="2061" y2="680" stroke="#ee1111" stroke-width="7" stroke-dasharray="17,15"/>
<text x="1931" y="537" class="s" font-size="49">E<tspan font-size="28" dy="20">1/2</tspan></text>
<text x="2216" y="519.6" class="s" font-size="49">E<tspan font-size="28" dy="20"><tspan font-style="italic">j</tspan>=10</tspan></text>
<line x1="1936" y1="583" x2="1979" y2="583" stroke="#000" stroke-width="5"/>
<polygon points="1909,583 1940,574 1940,592" fill="#000"/>
<line x1="2118" y1="583" x2="2170" y2="583" stroke="#000" stroke-width="5"/>
<polygon points="2197,583 2166,574 2166,592" fill="#000"/>
<text x="1987" y="601" class="s" font-size="48">0.72 V</text>
<text x="1906" y="655" class="s" font-size="45">O<tspan font-size="27" dy="15">2</tspan><tspan dy="-15">/H</tspan><tspan font-size="27" dy="15">2</tspan><tspan dy="-15">O</tspan></text>
<text x="2069" y="655" class="s" font-size="45">1.23 V</text>
<line x1="767.5" y1="892" x2="767.5" y2="1515" stroke="#0000cc" stroke-width="3.5" stroke-dasharray="9,8"/>
<line x1="790" y1="892" x2="790" y2="1515" stroke="#ee2020" stroke-width="3.5" stroke-dasharray="9,8"/>
<line x1="1738.7" y1="892" x2="1738.7" y2="1540" stroke="#e8892a" stroke-width="3.5" stroke-dasharray="9,8"/>
<polyline fill="none" stroke="#0000dd" stroke-width="5.5" stroke-linejoin="round" points="261.0,1189.3 288.0,1189.3 289.4,1137.0 303.2,1105.5 316.9,1083.6 330.6,1064.4 344.4,1050.6 358.1,1041.7 371.8,1036.2 386.2,1032.1 400.6,1029.3 415.1,1027.3 429.5,1025.2 443.9,1023.2 457.6,1021.1 472.0,1018.4 486.5,1015.6 500.9,1012.9 514.6,1010.1 529.0,1006.2 542.5,1003.5 556.0,1015.2 569.4,1020.4 583.7,1025.0 597.9,1029.4 612.1,1032.4 627.1,1035.4 641.3,1038.4 654.8,1044.4 669.8,1049.7 684.8,1059.4 698.3,1069.9 713.3,1087.9 726.7,1111.8 740.2,1141.8 752.0,1194.0 765.0,1236.0 767.0,1318.0 764.0,1381.0 766.0,1450.0 767.0,1519.0"/>
<polyline fill="none" stroke="#008080" stroke-width="5.5" stroke-linejoin="round" points="261.0,1400.0 288.0,1400.7 289.0,1383.7 298.8,1366.7 311.9,1358.9 326.2,1348.4 340.6,1341.2 355.0,1336.6 369.4,1332.0 383.7,1330.1 398.1,1328.8 412.5,1327.5 426.9,1326.8 441.9,1326.2 456.3,1324.9 470.0,1323.6 484.4,1322.3 498.7,1321.0 513.1,1319.7 527.8,1316.5 541.9,1312.8 555.9,1322.1 570.0,1326.8 584.0,1330.0 598.0,1330.7 612.1,1331.5 626.1,1333.0 640.2,1334.6 654.2,1336.2 668.3,1340.0 682.3,1344.0 696.4,1350.2 709.6,1359.6 722.9,1370.5 740.0,1386.1 751.0,1412.7 766.6,1434.5 766.6,1475.1 762.0,1511.0 764.0,1519.0"/>
<polyline fill="none" stroke="#ff0000" stroke-width="5.5" stroke-linejoin="round" points="769.0,1440.0 783.0,1330.0 794.0,1248.0 866.4,1250.0 908.5,1242.0 978.6,1239.0 1048.6,1239.0 1118.7,1234.6 1188.7,1241.0 1261.0,1243.0 1331.0,1236.7 1401.0,1238.8 1471.0,1238.8 1541.0,1241.0 1611.0,1235.0 1738.7,1235.0"/>
<polyline fill="none" stroke="#ff8c00" stroke-width="5.5" stroke-linejoin="round" points="771.0,1519.0 782.0,1480.0 794.0,1441.0 866.4,1437.0 908.5,1435.0 978.6,1434.0 1048.6,1434.0 1118.7,1434.0 1188.7,1434.0 1261.0,1434.0 1331.0,1432.0 1401.0,1432.0 1471.0,1432.0 1541.0,1432.0 1611.0,1432.0 1738.7,1432.0"/>
<polyline fill="none" stroke="#8a00f0" stroke-width="5.5" stroke-linejoin="round" points="1738.7,1235.3 1739.7,1205.4 1738.7,1169.8 1739.7,1120.1 1753.7,1087.4 1765.9,1063.0 1776.2,1049.9 1785.0,1043.0 1794.9,1036.8 1809.0,1031.0 1823.0,1027.4 1837.0,1025.5 1851.1,1023.7 1865.6,1021.0 1880.1,1018.0 1893.7,1014.5 1907.3,1010.6 1921.8,1005.9 1936.3,1001.2 1950.3,996.5 1964.4,991.8 1978.4,989.0 1992.5,986.2 2062.4,988.1 2071.8,1001.2 2079.3,1008.7 2092.4,1016.2 2107.3,1023.7 2120.4,1029.3 2133.6,1032.1 2148.5,1034.0 2161.6,1034.9 2174.8,1036.8 2187.9,1040.5 2201.0,1046.1 2214.1,1052.7 2225.3,1061.1 2232.8,1070.5 2245.9,1098.6 2260.0,1147.3 2260.0,1196.0 2260.0,1237.2 2367.6,1237.0"/>
<polyline fill="none" stroke="#808000" stroke-width="5.5" stroke-linejoin="round" points="1738.7,1435.2 1738.7,1418.0 1738.7,1397.8 1737.2,1374.9 1745.9,1363.4 1754.5,1351.9 1766.0,1344.7 1777.5,1338.9 1794.7,1333.2 1808.9,1331.2 1823.0,1329.5 1837.2,1327.8 1851.4,1326.2 1865.5,1324.6 1879.7,1323.1 1893.8,1321.6 1908.0,1320.1 1922.2,1318.7 1936.3,1317.2 1950.5,1315.8 1964.7,1314.4 1978.8,1313.0 1993.0,1311.6 2062.0,1308.7 2070.7,1317.4 2088.0,1323.1 2101.4,1324.7 2114.8,1326.3 2128.2,1327.9 2141.6,1329.5 2155.0,1331.1 2168.4,1332.7 2181.8,1334.3 2195.2,1335.9 2208.6,1337.5 2225.9,1346.1 2240.3,1354.7 2251.8,1366.2 2260.4,1389.2 2257.5,1412.2 2260.4,1429.5 2369.6,1434.0"/>
<polygon points="272.5,1404.8 265.8,1411.5 256.2,1411.5 249.5,1404.8 249.5,1395.2 256.2,1388.5 265.8,1388.5 272.5,1395.2" fill="#fff" stroke="#008080" stroke-width="4" stroke-linejoin="round"/><path d="M261,1388.125 A12.5,12.5 0 0 1 261,1411.875 Z" fill="#008080" stroke="#008080" stroke-width="4"/>
<polygon points="299.5,1405.5 292.8,1412.2 283.2,1412.2 276.5,1405.5 276.5,1395.9 283.2,1389.2 292.8,1389.2 299.5,1395.9" fill="#fff" stroke="#008080" stroke-width="4" stroke-linejoin="round"/><path d="M288,1388.825 A12.5,12.5 0 0 1 288,1412.575 Z" fill="#008080" stroke="#008080" stroke-width="4"/>
<polygon points="300.5,1388.5 293.8,1395.2 284.2,1395.2 277.5,1388.5 277.5,1378.9 284.2,1372.2 293.8,1372.2 300.5,1378.9" fill="#fff" stroke="#008080" stroke-width="4" stroke-linejoin="round"/><path d="M289,1371.825 A12.5,12.5 0 0 1 289,1395.575 Z" fill="#008080" stroke="#008080" stroke-width="4"/>
<polygon points="310.3,1371.5 303.6,1378.2 294.0,1378.2 287.3,1371.5 287.3,1361.9 294.0,1355.2 303.6,1355.2 310.3,1361.9" fill="#fff" stroke="#008080" stroke-width="4" stroke-linejoin="round"/><path d="M298.8,1354.825 A12.5,12.5 0 0 1 298.8,1378.575 Z" fill="#008080" stroke="#008080" stroke-width="4"/>
<polygon points="323.4,1363.7 316.7,1370.4 307.1,1370.4 300.4,1363.7 300.4,1354.1 307.1,1347.4 316.7,1347.4 323.4,1354.1" fill="#fff" stroke="#008080" stroke-width="4" stroke-linejoin="round"/><path d="M311.9,1347.025 A12.5,12.5 0 0 1 311.9,1370.775 Z" fill="#008080" stroke="#008080" stroke-width="4"/>
<polygon points="337.7,1353.2 331.0,1359.9 321.4,1359.9 314.7,1353.2 314.7,1343.6 321.4,1336.9 331.0,1336.9 337.7,1343.6" fill="#fff" stroke="#008080" stroke-width="4" stroke-linejoin="round"/><path d="M326.2,1336.525 A12.5,12.5 0 0 1 326.2,1360.275 Z" fill="#008080" stroke="#008080" stroke-width="4"/>
<polygon points="352.1,1346.0 345.4,1352.7 335.8,1352.7 329.1,1346.0 329.1,1336.4 335.8,1329.7 345.4,1329.7 352.1,1336.4" fill="#fff" stroke="#008080" stroke-width="4" stroke-linejoin="round"/><path d="M340.6,1329.325 A12.5,12.5 0 0 1 340.6,1353.075 Z" fill="#008080" stroke="#008080" stroke-width="4"/>
<polygon points="366.5,1341.4 359.8,1348.1 350.2,1348.1 343.5,1341.4 343.5,1331.8 350.2,1325.1 359.8,1325.1 366.5,1331.8" fill="#fff" stroke="#008080" stroke-width="4" stroke-linejoin="round"/><path d="M355,1324.725 A12.5,12.5 0 0 1 355,1348.475 Z" fill="#008080" stroke="#008080" stroke-width="4"/>
<polygon points="380.9,1336.8 374.2,1343.5 364.6,1343.5 357.9,1336.8 357.9,1327.2 364.6,1320.5 374.2,1320.5 380.9,1327.2" fill="#fff" stroke="#008080" stroke-width="4" stroke-linejoin="round"/><path d="M369.4,1320.125 A12.5,12.5 0 0 1 369.4,1343.875 Z" fill="#008080" stroke="#008080" stroke-width="4"/>
<polygon points="395.2,1334.9 388.5,1341.6 378.9,1341.6 372.2,1334.9 372.2,1325.3 378.9,1318.6 388.5,1318.6 395.2,1325.3" fill="#fff" stroke="#008080" stroke-width="4" stroke-linejoin="round"/><path d="M383.7,1318.225 A12.5,12.5 0 0 1 383.7,1341.975 Z" fill="#008080" stroke="#008080" stroke-width="4"/>
<polygon points="409.6,1333.6 402.9,1340.3 393.3,1340.3 386.6,1333.6 386.6,1324.0 393.3,1317.3 402.9,1317.3 409.6,1324.0" fill="#fff" stroke="#008080" stroke-width="4" stroke-linejoin="round"/><path d="M398.1,1316.925 A12.5,12.5 0 0 1 398.1,1340.675 Z" fill="#008080" stroke="#008080" stroke-width="4"/>
<polygon points="424.0,1332.3 417.3,1339.0 407.7,1339.0 401.0,1332.3 401.0,1322.7 407.7,1316.0 417.3,1316.0 424.0,1322.7" fill="#fff" stroke="#008080" stroke-width="4" stroke-linejoin="round"/><path d="M412.5,1315.625 A12.5,12.5 0 0 1 412.5,1339.375 Z" fill="#008080" stroke="#008080" stroke-width="4"/>
<polygon points="438.4,1331.6 431.7,1338.3 422.1,1338.3 415.4,1331.6 415.4,1322.0 422.1,1315.3 431.7,1315.3 438.4,1322.0" fill="#fff" stroke="#008080" stroke-width="4" stroke-linejoin="round"/><path d="M426.9,1314.925 A12.5,12.5 0 0 1 426.9,1338.675 Z" fill="#008080" stroke="#008080" stroke-width="4"/>
<polygon points="453.4,1331.0 446.7,1337.7 437.1,1337.7 430.4,1331.0 430.4,1321.4 437.1,1314.7 446.7,1314.7 453.4,1321.4" fill="#fff" stroke="#008080" stroke-width="4" stroke-linejoin="round"/><path d="M441.9,1314.325 A12.5,12.5 0 0 1 441.9,1338.075 Z" fill="#008080" stroke="#008080" stroke-width="4"/>
<polygon points="467.8,1329.7 461.1,1336.4 451.5,1336.4 444.8,1329.7 444.8,1320.1 451.5,1313.4 461.1,1313.4 467.8,1320.1" fill="#fff" stroke="#008080" stroke-width="4" stroke-linejoin="round"/><path d="M456.3,1313.025 A12.5,12.5 0 0 1 456.3,1336.775 Z" fill="#008080" stroke="#008080" stroke-width="4"/>
<polygon points="481.5,1328.4 474.8,1335.1 465.2,1335.1 458.5,1328.4 458.5,1318.8 465.2,1312.1 474.8,1312.1 481.5,1318.8" fill="#fff" stroke="#008080" stroke-width="4" stroke-linejoin="round"/><path d="M470,1311.725 A12.5,12.5 0 0 1 470,1335.475 Z" fill="#008080" stroke="#008080" stroke-width="4"/>
<polygon points="495.9,1327.1 489.2,1333.8 479.6,1333.8 472.9,1327.1 472.9,1317.5 479.6,1310.8 489.2,1310.8 495.9,1317.5" fill="#fff" stroke="#008080" stroke-width="4" stroke-linejoin="round"/><path d="M484.4,1310.425 A12.5,12.5 0 0 1 484.4,1334.175 Z" fill="#008080" stroke="#008080" stroke-width="4"/>
<polygon points="510.2,1325.8 503.5,1332.5 493.9,1332.5 487.2,1325.8 487.2,1316.2 493.9,1309.5 503.5,1309.5 510.2,1316.2" fill="#fff" stroke="#008080" stroke-width="4" stroke-linejoin="round"/><path d="M498.7,1309.125 A12.5,12.5 0 0 1 498.7,1332.875 Z" fill="#008080" stroke="#008080" stroke-width="4"/>
<polygon points="524.6,1324.5 517.9,1331.2 508.3,1331.2 501.6,1324.5 501.6,1314.9 508.3,1308.2 517.9,1308.2 524.6,1314.9" fill="#fff" stroke="#008080" stroke-width="4" stroke-linejoin="round"/><path d="M513.1,1307.825 A12.5,12.5 0 0 1 513.1,1331.575 Z" fill="#008080" stroke="#008080" stroke-width="4"/>
<polygon points="539.3,1321.3 532.6,1328.0 523.0,1328.0 516.3,1321.3 516.3,1311.7 523.0,1305.0 532.6,1305.0 539.3,1311.7" fill="#fff" stroke="#008080" stroke-width="4" stroke-linejoin="round"/><path d="M527.8,1304.625 A12.5,12.5 0 0 1 527.8,1328.375 Z" fill="#008080" stroke="#008080" stroke-width="4"/>
<polygon points="553.4,1317.6 546.7,1324.3 537.1,1324.3 530.4,1317.6 530.4,1308.0 537.1,1301.3 546.7,1301.3 553.4,1308.0" fill="#fff" stroke="#008080" stroke-width="4" stroke-linejoin="round"/><path d="M541.9,1300.925 A12.5,12.5 0 0 1 541.9,1324.675 Z" fill="#008080" stroke="#008080" stroke-width="4"/>
<polygon points="567.4,1326.9 560.7,1333.6 551.1,1333.6 544.4,1326.9 544.4,1317.3 551.1,1310.6 560.7,1310.6 567.4,1317.3" fill="#fff" stroke="#008080" stroke-width="4" stroke-linejoin="round"/><path d="M555.9,1310.225 A12.5,12.5 0 0 1 555.9,1333.975 Z" fill="#008080" stroke="#008080" stroke-width="4"/>
<polygon points="581.5,1331.6 574.8,1338.3 565.2,1338.3 558.5,1331.6 558.5,1322.0 565.2,1315.3 574.8,1315.3 581.5,1322.0" fill="#fff" stroke="#008080" stroke-width="4" stroke-linejoin="round"/><path d="M570,1314.925 A12.5,12.5 0 0 1 570,1338.675 Z" fill="#008080" stroke="#008080" stroke-width="4"/>
<polygon points="595.5,1334.8 588.8,1341.5 579.2,1341.5 572.5,1334.8 572.5,1325.2 579.2,1318.5 588.8,1318.5 595.5,1325.2" fill="#fff" stroke="#008080" stroke-width="4" stroke-linejoin="round"/><path d="M584,1318.125 A12.5,12.5 0 0 1 584,1341.875 Z" fill="#008080" stroke="#008080" stroke-width="4"/>
<polygon points="609.5,1335.5 602.8,1342.2 593.2,1342.2 586.5,1335.5 586.5,1325.9 593.2,1319.2 602.8,1319.2 609.5,1325.9" fill="#fff" stroke="#008080" stroke-width="4" stroke-linejoin="round"/><path d="M598,1318.825 A12.5,12.5 0 0 1 598,1342.575 Z" fill="#008080" stroke="#008080" stroke-width="4"/>
<polygon points="623.6,1336.3 616.9,1343.0 607.3,1343.0 600.6,1336.3 600.6,1326.7 607.3,1320.0 616.9,1320.0 623.6,1326.7" fill="#fff" stroke="#008080" stroke-width="4" stroke-linejoin="round"/><path d="M612.1,1319.625 A12.5,12.5 0 0 1 612.1,1343.375 Z" fill="#008080" stroke="#008080" stroke-width="4"/>
<polygon points="637.6,1337.8 630.9,1344.5 621.3,1344.5 614.6,1337.8 614.6,1328.2 621.3,1321.5 630.9,1321.5 637.6,1328.2" fill="#fff" stroke="#008080" stroke-width="4" stroke-linejoin="round"/><path d="M626.1,1321.125 A12.5,12.5 0 0 1 626.1,1344.875 Z" fill="#008080" stroke="#008080" stroke-width="4"/>
<polygon points="651.7,1339.4 645.0,1346.1 635.4,1346.1 628.7,1339.4 628.7,1329.8 635.4,1323.1 645.0,1323.1 651.7,1329.8" fill="#fff" stroke="#008080" stroke-width="4" stroke-linejoin="round"/><path d="M640.2,1322.725 A12.5,12.5 0 0 1 640.2,1346.475 Z" fill="#008080" stroke="#008080" stroke-width="4"/>
<polygon points="665.7,1341.0 659.0,1347.7 649.4,1347.7 642.7,1341.0 642.7,1331.4 649.4,1324.7 659.0,1324.7 665.7,1331.4" fill="#fff" stroke="#008080" stroke-width="4" stroke-linejoin="round"/><path d="M654.2,1324.325 A12.5,12.5 0 0 1 654.2,1348.075 Z" fill="#008080" stroke="#008080" stroke-width="4"/>
<polygon points="679.8,1344.8 673.1,1351.5 663.5,1351.5 656.8,1344.8 656.8,1335.2 663.5,1328.5 673.1,1328.5 679.8,1335.2" fill="#fff" stroke="#008080" stroke-width="4" stroke-linejoin="round"/><path d="M668.3,1328.125 A12.5,12.5 0 0 1 668.3,1351.875 Z" fill="#008080" stroke="#008080" stroke-width="4"/>
<polygon points="693.8,1348.8 687.1,1355.5 677.5,1355.5 670.8,1348.8 670.8,1339.2 677.5,1332.5 687.1,1332.5 693.8,1339.2" fill="#fff" stroke="#008080" stroke-width="4" stroke-linejoin="round"/><path d="M682.3,1332.125 A12.5,12.5 0 0 1 682.3,1355.875 Z" fill="#008080" stroke="#008080" stroke-width="4"/>
<polygon points="707.9,1355.0 701.2,1361.7 691.6,1361.7 684.9,1355.0 684.9,1345.4 691.6,1338.7 701.2,1338.7 707.9,1345.4" fill="#fff" stroke="#008080" stroke-width="4" stroke-linejoin="round"/><path d="M696.4,1338.325 A12.5,12.5 0 0 1 696.4,1362.075 Z" fill="#008080" stroke="#008080" stroke-width="4"/>
<polygon points="721.1,1364.4 714.4,1371.1 704.8,1371.1 698.1,1364.4 698.1,1354.8 704.8,1348.1 714.4,1348.1 721.1,1354.8" fill="#fff" stroke="#008080" stroke-width="4" stroke-linejoin="round"/><path d="M709.6,1347.725 A12.5,12.5 0 0 1 709.6,1371.475 Z" fill="#008080" stroke="#008080" stroke-width="4"/>
<polygon points="734.4,1375.3 727.7,1382.0 718.1,1382.0 711.4,1375.3 711.4,1365.7 718.1,1359.0 727.7,1359.0 734.4,1365.7" fill="#fff" stroke="#008080" stroke-width="4" stroke-linejoin="round"/><path d="M722.9,1358.625 A12.5,12.5 0 0 1 722.9,1382.375 Z" fill="#008080" stroke="#008080" stroke-width="4"/>
<polygon points="751.5,1390.9 744.8,1397.6 735.2,1397.6 728.5,1390.9 728.5,1381.3 735.2,1374.6 744.8,1374.6 751.5,1381.3" fill="#fff" stroke="#008080" stroke-width="4" stroke-linejoin="round"/><path d="M740,1374.225 A12.5,12.5 0 0 1 740,1397.975 Z" fill="#008080" stroke="#008080" stroke-width="4"/>
<polygon points="762.5,1417.5 755.8,1424.2 746.2,1424.2 739.5,1417.5 739.5,1407.9 746.2,1401.2 755.8,1401.2 762.5,1407.9" fill="#fff" stroke="#008080" stroke-width="4" stroke-linejoin="round"/><path d="M751,1400.825 A12.5,12.5 0 0 1 751,1424.575 Z" fill="#008080" stroke="#008080" stroke-width="4"/>
<polygon points="778.1,1439.3 771.4,1446.0 761.8,1446.0 755.1,1439.3 755.1,1429.7 761.8,1423.0 771.4,1423.0 778.1,1429.7" fill="#fff" stroke="#008080" stroke-width="4" stroke-linejoin="round"/><path d="M766.6,1422.625 A12.5,12.5 0 0 1 766.6,1446.375 Z" fill="#008080" stroke="#008080" stroke-width="4"/>
<polygon points="778.1,1479.9 771.4,1486.6 761.8,1486.6 755.1,1479.9 755.1,1470.3 761.8,1463.6 771.4,1463.6 778.1,1470.3" fill="#fff" stroke="#008080" stroke-width="4" stroke-linejoin="round"/><path d="M766.6,1463.225 A12.5,12.5 0 0 1 766.6,1486.975 Z" fill="#008080" stroke="#008080" stroke-width="4"/>
<polygon points="773.5,1515.8 766.8,1522.5 757.2,1522.5 750.5,1515.8 750.5,1506.2 757.2,1499.5 766.8,1499.5 773.5,1506.2" fill="#fff" stroke="#008080" stroke-width="4" stroke-linejoin="round"/><path d="M762,1499.125 A12.5,12.5 0 0 1 762,1522.875 Z" fill="#008080" stroke="#008080" stroke-width="4"/>
<polygon points="261.0,1175.8 273.8,1185.1 268.9,1200.2 253.1,1200.2 248.2,1185.1" fill="#fff" stroke="#0000dd" stroke-width="4" stroke-linejoin="round"/><polygon points="261.0,1175.8 273.8,1185.1 268.9,1200.2 261.0,1200.2" fill="#0000dd" stroke="#0000dd" stroke-width="4" stroke-linejoin="round"/>
<polygon points="288.0,1175.8 300.8,1185.1 295.9,1200.2 280.1,1200.2 275.2,1185.1" fill="#fff" stroke="#0000dd" stroke-width="4" stroke-linejoin="round"/><polygon points="288.0,1175.8 300.8,1185.1 295.9,1200.2 288.0,1200.2" fill="#0000dd" stroke="#0000dd" stroke-width="4" stroke-linejoin="round"/>
<polygon points="289.4,1123.5 302.2,1132.8 297.3,1147.9 281.5,1147.9 276.6,1132.8" fill="#fff" stroke="#0000dd" stroke-width="4" stroke-linejoin="round"/><polygon points="289.4,1123.5 302.2,1132.8 297.3,1147.9 289.4,1147.9" fill="#0000dd" stroke="#0000dd" stroke-width="4" stroke-linejoin="round"/>
<polygon points="303.2,1092.0 316.0,1101.3 311.1,1116.4 295.3,1116.4 290.4,1101.3" fill="#fff" stroke="#0000dd" stroke-width="4" stroke-linejoin="round"/><polygon points="303.2,1092.0 316.0,1101.3 311.1,1116.4 303.2,1116.4" fill="#0000dd" stroke="#0000dd" stroke-width="4" stroke-linejoin="round"/>
<polygon points="316.9,1070.1 329.7,1079.4 324.8,1094.5 309.0,1094.5 304.1,1079.4" fill="#fff" stroke="#0000dd" stroke-width="4" stroke-linejoin="round"/><polygon points="316.9,1070.1 329.7,1079.4 324.8,1094.5 316.9,1094.5" fill="#0000dd" stroke="#0000dd" stroke-width="4" stroke-linejoin="round"/>
<polygon points="330.6,1050.9 343.4,1060.2 338.5,1075.3 322.7,1075.3 317.8,1060.2" fill="#fff" stroke="#0000dd" stroke-width="4" stroke-linejoin="round"/><polygon points="330.6,1050.9 343.4,1060.2 338.5,1075.3 330.6,1075.3" fill="#0000dd" stroke="#0000dd" stroke-width="4" stroke-linejoin="round"/>
<polygon points="344.4,1037.1 357.2,1046.4 352.3,1061.5 336.5,1061.5 331.6,1046.4" fill="#fff" stroke="#0000dd" stroke-width="4" stroke-linejoin="round"/><polygon points="344.4,1037.1 357.2,1046.4 352.3,1061.5 344.4,1061.5" fill="#0000dd" stroke="#0000dd" stroke-width="4" stroke-linejoin="round"/>
<polygon points="358.1,1028.2 370.9,1037.5 366.0,1052.6 350.2,1052.6 345.3,1037.5" fill="#fff" stroke="#0000dd" stroke-width="4" stroke-linejoin="round"/><polygon points="358.1,1028.2 370.9,1037.5 366.0,1052.6 358.1,1052.6" fill="#0000dd" stroke="#0000dd" stroke-width="4" stroke-linejoin="round"/>
<polygon points="371.8,1022.7 384.6,1032.0 379.7,1047.1 363.9,1047.1 359.0,1032.0" fill="#fff" stroke="#0000dd" stroke-width="4" stroke-linejoin="round"/><polygon points="371.8,1022.7 384.6,1032.0 379.7,1047.1 371.8,1047.1" fill="#0000dd" stroke="#0000dd" stroke-width="4" stroke-linejoin="round"/>
<polygon points="386.2,1018.6 399.0,1027.9 394.1,1043.0 378.3,1043.0 373.4,1027.9" fill="#fff" stroke="#0000dd" stroke-width="4" stroke-linejoin="round"/><polygon points="386.2,1018.6 399.0,1027.9 394.1,1043.0 386.2,1043.0" fill="#0000dd" stroke="#0000dd" stroke-width="4" stroke-linejoin="round"/>
<polygon points="400.6,1015.8 413.4,1025.1 408.5,1040.2 392.7,1040.2 387.8,1025.1" fill="#fff" stroke="#0000dd" stroke-width="4" stroke-linejoin="round"/><polygon points="400.6,1015.8 413.4,1025.1 408.5,1040.2 400.6,1040.2" fill="#0000dd" stroke="#0000dd" stroke-width="4" stroke-linejoin="round"/>
<polygon points="415.1,1013.8 427.9,1023.1 423.0,1038.2 407.2,1038.2 402.3,1023.1" fill="#fff" stroke="#0000dd" stroke-width="4" stroke-linejoin="round"/><polygon points="415.1,1013.8 427.9,1023.1 423.0,1038.2 415.1,1038.2" fill="#0000dd" stroke="#0000dd" stroke-width="4" stroke-linejoin="round"/>
<polygon points="429.5,1011.7 442.3,1021.0 437.4,1036.1 421.6,1036.1 416.7,1021.0" fill="#fff" stroke="#0000dd" stroke-width="4" stroke-linejoin="round"/><polygon points="429.5,1011.7 442.3,1021.0 437.4,1036.1 429.5,1036.1" fill="#0000dd" stroke="#0000dd" stroke-width="4" stroke-linejoin="round"/>
<polygon points="443.9,1009.7 456.7,1019.0 451.8,1034.1 436.0,1034.1 431.1,1019.0" fill="#fff" stroke="#0000dd" stroke-width="4" stroke-linejoin="round"/><polygon points="443.9,1009.7 456.7,1019.0 451.8,1034.1 443.9,1034.1" fill="#0000dd" stroke="#0000dd" stroke-width="4" stroke-linejoin="round"/>
<polygon points="457.6,1007.6 470.4,1016.9 465.5,1032.0 449.7,1032.0 444.8,1016.9" fill="#fff" stroke="#0000dd" stroke-width="4" stroke-linejoin="round"/><polygon points="457.6,1007.6 470.4,1016.9 465.5,1032.0 457.6,1032.0" fill="#0000dd" stroke="#0000dd" stroke-width="4" stroke-linejoin="round"/>
<polygon points="472.0,1004.9 484.8,1014.2 479.9,1029.3 464.1,1029.3 459.2,1014.2" fill="#fff" stroke="#0000dd" stroke-width="4" stroke-linejoin="round"/><polygon points="472.0,1004.9 484.8,1014.2 479.9,1029.3 472.0,1029.3" fill="#0000dd" stroke="#0000dd" stroke-width="4" stroke-linejoin="round"/>
<polygon points="486.5,1002.1 499.3,1011.4 494.4,1026.5 478.6,1026.5 473.7,1011.4" fill="#fff" stroke="#0000dd" stroke-width="4" stroke-linejoin="round"/><polygon points="486.5,1002.1 499.3,1011.4 494.4,1026.5 486.5,1026.5" fill="#0000dd" stroke="#0000dd" stroke-width="4" stroke-linejoin="round"/>
<polygon points="500.9,999.4 513.7,1008.7 508.8,1023.8 493.0,1023.8 488.1,1008.7" fill="#fff" stroke="#0000dd" stroke-width="4" stroke-linejoin="round"/><polygon points="500.9,999.4 513.7,1008.7 508.8,1023.8 500.9,1023.8" fill="#0000dd" stroke="#0000dd" stroke-width="4" stroke-linejoin="round"/>
<polygon points="514.6,996.6 527.4,1005.9 522.5,1021.0 506.7,1021.0 501.8,1005.9" fill="#fff" stroke="#0000dd" stroke-width="4" stroke-linejoin="round"/><polygon points="514.6,996.6 527.4,1005.9 522.5,1021.0 514.6,1021.0" fill="#0000dd" stroke="#0000dd" stroke-width="4" stroke-linejoin="round"/>
<polygon points="529.0,992.7 541.8,1002.0 536.9,1017.1 521.1,1017.1 516.2,1002.0" fill="#fff" stroke="#0000dd" stroke-width="4" stroke-linejoin="round"/><polygon points="529.0,992.7 541.8,1002.0 536.9,1017.1 529.0,1017.1" fill="#0000dd" stroke="#0000dd" stroke-width="4" stroke-linejoin="round"/>
<polygon points="542.5,990.0 555.3,999.3 550.4,1014.4 534.6,1014.4 529.7,999.3" fill="#fff" stroke="#0000dd" stroke-width="4" stroke-linejoin="round"/><polygon points="542.5,990.0 555.3,999.3 550.4,1014.4 542.5,1014.4" fill="#0000dd" stroke="#0000dd" stroke-width="4" stroke-linejoin="round"/>
<polygon points="556.0,1001.7 568.8,1011.0 563.9,1026.1 548.1,1026.1 543.2,1011.0" fill="#fff" stroke="#0000dd" stroke-width="4" stroke-linejoin="round"/><polygon points="556.0,1001.7 568.8,1011.0 563.9,1026.1 556.0,1026.1" fill="#0000dd" stroke="#0000dd" stroke-width="4" stroke-linejoin="round"/>
<polygon points="569.4,1006.9 582.2,1016.2 577.3,1031.3 561.5,1031.3 556.6,1016.2" fill="#fff" stroke="#0000dd" stroke-width="4" stroke-linejoin="round"/><polygon points="569.4,1006.9 582.2,1016.2 577.3,1031.3 569.4,1031.3" fill="#0000dd" stroke="#0000dd" stroke-width="4" stroke-linejoin="round"/>
<polygon points="583.7,1011.5 596.5,1020.8 591.6,1035.9 575.8,1035.9 570.9,1020.8" fill="#fff" stroke="#0000dd" stroke-width="4" stroke-linejoin="round"/><polygon points="583.7,1011.5 596.5,1020.8 591.6,1035.9 583.7,1035.9" fill="#0000dd" stroke="#0000dd" stroke-width="4" stroke-linejoin="round"/>
<polygon points="597.9,1015.9 610.7,1025.2 605.8,1040.3 590.0,1040.3 585.1,1025.2" fill="#fff" stroke="#0000dd" stroke-width="4" stroke-linejoin="round"/><polygon points="597.9,1015.9 610.7,1025.2 605.8,1040.3 597.9,1040.3" fill="#0000dd" stroke="#0000dd" stroke-width="4" stroke-linejoin="round"/>
<polygon points="612.1,1018.9 624.9,1028.2 620.0,1043.3 604.2,1043.3 599.3,1028.2" fill="#fff" stroke="#0000dd" stroke-width="4" stroke-linejoin="round"/><polygon points="612.1,1018.9 624.9,1028.2 620.0,1043.3 612.1,1043.3" fill="#0000dd" stroke="#0000dd" stroke-width="4" stroke-linejoin="round"/>
<polygon points="627.1,1021.9 639.9,1031.2 635.0,1046.3 619.2,1046.3 614.3,1031.2" fill="#fff" stroke="#0000dd" stroke-width="4" stroke-linejoin="round"/><polygon points="627.1,1021.9 639.9,1031.2 635.0,1046.3 627.1,1046.3" fill="#0000dd" stroke="#0000dd" stroke-width="4" stroke-linejoin="round"/>
<polygon points="641.3,1024.9 654.1,1034.2 649.2,1049.3 633.4,1049.3 628.5,1034.2" fill="#fff" stroke="#0000dd" stroke-width="4" stroke-linejoin="round"/><polygon points="641.3,1024.9 654.1,1034.2 649.2,1049.3 641.3,1049.3" fill="#0000dd" stroke="#0000dd" stroke-width="4" stroke-linejoin="round"/>
<polygon points="654.8,1030.9 667.6,1040.2 662.7,1055.3 646.9,1055.3 642.0,1040.2" fill="#fff" stroke="#0000dd" stroke-width="4" stroke-linejoin="round"/><polygon points="654.8,1030.9 667.6,1040.2 662.7,1055.3 654.8,1055.3" fill="#0000dd" stroke="#0000dd" stroke-width="4" stroke-linejoin="round"/>
<polygon points="669.8,1036.2 682.6,1045.5 677.7,1060.6 661.9,1060.6 657.0,1045.5" fill="#fff" stroke="#0000dd" stroke-width="4" stroke-linejoin="round"/><polygon points="669.8,1036.2 682.6,1045.5 677.7,1060.6 669.8,1060.6" fill="#0000dd" stroke="#0000dd" stroke-width="4" stroke-linejoin="round"/>
<polygon points="684.8,1045.9 697.6,1055.2 692.7,1070.3 676.9,1070.3 672.0,1055.2" fill="#fff" stroke="#0000dd" stroke-width="4" stroke-linejoin="round"/><polygon points="684.8,1045.9 697.6,1055.2 692.7,1070.3 684.8,1070.3" fill="#0000dd" stroke="#0000dd" stroke-width="4" stroke-linejoin="round"/>
<polygon points="698.3,1056.4 711.1,1065.7 706.2,1080.8 690.4,1080.8 685.5,1065.7" fill="#fff" stroke="#0000dd" stroke-width="4" stroke-linejoin="round"/><polygon points="698.3,1056.4 711.1,1065.7 706.2,1080.8 698.3,1080.8" fill="#0000dd" stroke="#0000dd" stroke-width="4" stroke-linejoin="round"/>
<polygon points="713.3,1074.4 726.1,1083.7 721.2,1098.8 705.4,1098.8 700.5,1083.7" fill="#fff" stroke="#0000dd" stroke-width="4" stroke-linejoin="round"/><polygon points="713.3,1074.4 726.1,1083.7 721.2,1098.8 713.3,1098.8" fill="#0000dd" stroke="#0000dd" stroke-width="4" stroke-linejoin="round"/>
<polygon points="726.7,1098.3 739.5,1107.6 734.6,1122.7 718.8,1122.7 713.9,1107.6" fill="#fff" stroke="#0000dd" stroke-width="4" stroke-linejoin="round"/><polygon points="726.7,1098.3 739.5,1107.6 734.6,1122.7 726.7,1122.7" fill="#0000dd" stroke="#0000dd" stroke-width="4" stroke-linejoin="round"/>
<polygon points="740.2,1128.3 753.0,1137.6 748.1,1152.7 732.3,1152.7 727.4,1137.6" fill="#fff" stroke="#0000dd" stroke-width="4" stroke-linejoin="round"/><polygon points="740.2,1128.3 753.0,1137.6 748.1,1152.7 740.2,1152.7" fill="#0000dd" stroke="#0000dd" stroke-width="4" stroke-linejoin="round"/>
<polygon points="752.0,1180.5 764.8,1189.8 759.9,1204.9 744.1,1204.9 739.2,1189.8" fill="#fff" stroke="#0000dd" stroke-width="4" stroke-linejoin="round"/><polygon points="752.0,1180.5 764.8,1189.8 759.9,1204.9 752.0,1204.9" fill="#0000dd" stroke="#0000dd" stroke-width="4" stroke-linejoin="round"/>
<polygon points="765.0,1222.5 777.8,1231.8 772.9,1246.9 757.1,1246.9 752.2,1231.8" fill="#fff" stroke="#0000dd" stroke-width="4" stroke-linejoin="round"/><polygon points="765.0,1222.5 777.8,1231.8 772.9,1246.9 765.0,1246.9" fill="#0000dd" stroke="#0000dd" stroke-width="4" stroke-linejoin="round"/>
<polygon points="767.0,1304.5 779.8,1313.8 774.9,1328.9 759.1,1328.9 754.2,1313.8" fill="#fff" stroke="#0000dd" stroke-width="4" stroke-linejoin="round"/><polygon points="767.0,1304.5 779.8,1313.8 774.9,1328.9 767.0,1328.9" fill="#0000dd" stroke="#0000dd" stroke-width="4" stroke-linejoin="round"/>
<polygon points="764.0,1367.5 776.8,1376.8 771.9,1391.9 756.1,1391.9 751.2,1376.8" fill="#fff" stroke="#0000dd" stroke-width="4" stroke-linejoin="round"/><polygon points="764.0,1367.5 776.8,1376.8 771.9,1391.9 764.0,1391.9" fill="#0000dd" stroke="#0000dd" stroke-width="4" stroke-linejoin="round"/>
<circle cx="794" cy="1248" r="10.5" fill="#fff" stroke="#ff0000" stroke-width="3"/><path d="M794,1237.5 A10.5,10.5 0 0 1 794,1258.5 Z" fill="#ff0000" stroke="#ff0000" stroke-width="3"/>
<circle cx="866.4" cy="1250" r="10.5" fill="#fff" stroke="#ff0000" stroke-width="3"/><path d="M866.4,1239.5 A10.5,10.5 0 0 1 866.4,1260.5 Z" fill="#ff0000" stroke="#ff0000" stroke-width="3"/>
<circle cx="908.5" cy="1242" r="10.5" fill="#fff" stroke="#ff0000" stroke-width="3"/><path d="M908.5,1231.5 A10.5,10.5 0 0 1 908.5,1252.5 Z" fill="#ff0000" stroke="#ff0000" stroke-width="3"/>
<circle cx="978.6" cy="1239" r="10.5" fill="#fff" stroke="#ff0000" stroke-width="3"/><path d="M978.6,1228.5 A10.5,10.5 0 0 1 978.6,1249.5 Z" fill="#ff0000" stroke="#ff0000" stroke-width="3"/>
<circle cx="1048.6" cy="1239" r="10.5" fill="#fff" stroke="#ff0000" stroke-width="3"/><path d="M1048.6,1228.5 A10.5,10.5 0 0 1 1048.6,1249.5 Z" fill="#ff0000" stroke="#ff0000" stroke-width="3"/>
<circle cx="1118.7" cy="1234.6" r="10.5" fill="#fff" stroke="#ff0000" stroke-width="3"/><path d="M1118.7,1224.1 A10.5,10.5 0 0 1 1118.7,1245.1 Z" fill="#ff0000" stroke="#ff0000" stroke-width="3"/>
<circle cx="1188.7" cy="1241" r="10.5" fill="#fff" stroke="#ff0000" stroke-width="3"/><path d="M1188.7,1230.5 A10.5,10.5 0 0 1 1188.7,1251.5 Z" fill="#ff0000" stroke="#ff0000" stroke-width="3"/>
<circle cx="1261" cy="1243" r="10.5" fill="#fff" stroke="#ff0000" stroke-width="3"/><path d="M1261,1232.5 A10.5,10.5 0 0 1 1261,1253.5 Z" fill="#ff0000" stroke="#ff0000" stroke-width="3"/>
<circle cx="1331" cy="1236.7" r="10.5" fill="#fff" stroke="#ff0000" stroke-width="3"/><path d="M1331,1226.2 A10.5,10.5 0 0 1 1331,1247.2 Z" fill="#ff0000" stroke="#ff0000" stroke-width="3"/>
<circle cx="1401" cy="1238.8" r="10.5" fill="#fff" stroke="#ff0000" stroke-width="3"/><path d="M1401,1228.3 A10.5,10.5 0 0 1 1401,1249.3 Z" fill="#ff0000" stroke="#ff0000" stroke-width="3"/>
<circle cx="1471" cy="1238.8" r="10.5" fill="#fff" stroke="#ff0000" stroke-width="3"/><path d="M1471,1228.3 A10.5,10.5 0 0 1 1471,1249.3 Z" fill="#ff0000" stroke="#ff0000" stroke-width="3"/>
<circle cx="1541" cy="1241" r="10.5" fill="#fff" stroke="#ff0000" stroke-width="3"/><path d="M1541,1230.5 A10.5,10.5 0 0 1 1541,1251.5 Z" fill="#ff0000" stroke="#ff0000" stroke-width="3"/>
<circle cx="1611" cy="1235" r="10.5" fill="#fff" stroke="#ff0000" stroke-width="3"/><path d="M1611,1224.5 A10.5,10.5 0 0 1 1611,1245.5 Z" fill="#ff0000" stroke="#ff0000" stroke-width="3"/>
<circle cx="794" cy="1441" r="10.5" fill="#fff" stroke="#ff8c00" stroke-width="3"/><path d="M794,1430.5 A10.5,10.5 0 0 1 794,1451.5 Z" fill="#ff8c00" stroke="#ff8c00" stroke-width="3"/>
<circle cx="866.4" cy="1437" r="10.5" fill="#fff" stroke="#ff8c00" stroke-width="3"/><path d="M866.4,1426.5 A10.5,10.5 0 0 1 866.4,1447.5 Z" fill="#ff8c00" stroke="#ff8c00" stroke-width="3"/>
<circle cx="908.5" cy="1435" r="10.5" fill="#fff" stroke="#ff8c00" stroke-width="3"/><path d="M908.5,1424.5 A10.5,10.5 0 0 1 908.5,1445.5 Z" fill="#ff8c00" stroke="#ff8c00" stroke-width="3"/>
<circle cx="978.6" cy="1434" r="10.5" fill="#fff" stroke="#ff8c00" stroke-width="3"/><path d="M978.6,1423.5 A10.5,10.5 0 0 1 978.6,1444.5 Z" fill="#ff8c00" stroke="#ff8c00" stroke-width="3"/>
<circle cx="1048.6" cy="1434" r="10.5" fill="#fff" stroke="#ff8c00" stroke-width="3"/><path d="M1048.6,1423.5 A10.5,10.5 0 0 1 1048.6,1444.5 Z" fill="#ff8c00" stroke="#ff8c00" stroke-width="3"/>
<circle cx="1118.7" cy="1434" r="10.5" fill="#fff" stroke="#ff8c00" stroke-width="3"/><path d="M1118.7,1423.5 A10.5,10.5 0 0 1 1118.7,1444.5 Z" fill="#ff8c00" stroke="#ff8c00" stroke-width="3"/>
<circle cx="1188.7" cy="1434" r="10.5" fill="#fff" stroke="#ff8c00" stroke-width="3"/><path d="M1188.7,1423.5 A10.5,10.5 0 0 1 1188.7,1444.5 Z" fill="#ff8c00" stroke="#ff8c00" stroke-width="3"/>
<circle cx="1261" cy="1434" r="10.5" fill="#fff" stroke="#ff8c00" stroke-width="3"/><path d="M1261,1423.5 A10.5,10.5 0 0 1 1261,1444.5 Z" fill="#ff8c00" stroke="#ff8c00" stroke-width="3"/>
<circle cx="1331" cy="1432" r="10.5" fill="#fff" stroke="#ff8c00" stroke-width="3"/><path d="M1331,1421.5 A10.5,10.5 0 0 1 1331,1442.5 Z" fill="#ff8c00" stroke="#ff8c00" stroke-width="3"/>
<circle cx="1401" cy="1432" r="10.5" fill="#fff" stroke="#ff8c00" stroke-width="3"/><path d="M1401,1421.5 A10.5,10.5 0 0 1 1401,1442.5 Z" fill="#ff8c00" stroke="#ff8c00" stroke-width="3"/>
<circle cx="1471" cy="1432" r="10.5" fill="#fff" stroke="#ff8c00" stroke-width="3"/><path d="M1471,1421.5 A10.5,10.5 0 0 1 1471,1442.5 Z" fill="#ff8c00" stroke="#ff8c00" stroke-width="3"/>
<circle cx="1541" cy="1432" r="10.5" fill="#fff" stroke="#ff8c00" stroke-width="3"/><path d="M1541,1421.5 A10.5,10.5 0 0 1 1541,1442.5 Z" fill="#ff8c00" stroke="#ff8c00" stroke-width="3"/>
<circle cx="1611" cy="1432" r="10.5" fill="#fff" stroke="#ff8c00" stroke-width="3"/><path d="M1611,1421.5 A10.5,10.5 0 0 1 1611,1442.5 Z" fill="#ff8c00" stroke="#ff8c00" stroke-width="3"/>
<polygon points="1738.7,1420.7 1742.5,1429.9 1752.5,1430.7 1744.9,1437.2 1747.2,1446.9 1738.7,1441.7 1730.2,1446.9 1732.5,1437.2 1724.9,1430.7 1734.9,1429.9" fill="#808000" stroke="#808000" stroke-width="2.6" stroke-linejoin="round"/><circle cx="1739.7" cy="1435.2" r="2.2" fill="#fff" opacity="0.55"/>
<polygon points="1738.7,1403.5 1742.5,1412.7 1752.5,1413.5 1744.9,1420.0 1747.2,1429.7 1738.7,1424.5 1730.2,1429.7 1732.5,1420.0 1724.9,1413.5 1734.9,1412.7" fill="#808000" stroke="#808000" stroke-width="2.6" stroke-linejoin="round"/><circle cx="1739.7" cy="1418" r="2.2" fill="#fff" opacity="0.55"/>
<polygon points="1738.7,1383.3 1742.5,1392.5 1752.5,1393.3 1744.9,1399.8 1747.2,1409.5 1738.7,1404.3 1730.2,1409.5 1732.5,1399.8 1724.9,1393.3 1734.9,1392.5" fill="#808000" stroke="#808000" stroke-width="2.6" stroke-linejoin="round"/><circle cx="1739.7" cy="1397.8" r="2.2" fill="#fff" opacity="0.55"/>
<polygon points="1737.2,1360.4 1741.0,1369.6 1751.0,1370.4 1743.4,1376.9 1745.7,1386.6 1737.2,1381.4 1728.7,1386.6 1731.0,1376.9 1723.4,1370.4 1733.4,1369.6" fill="#808000" stroke="#808000" stroke-width="2.6" stroke-linejoin="round"/><circle cx="1738.2" cy="1374.9" r="2.2" fill="#fff" opacity="0.55"/>
<polygon points="1745.9,1348.9 1749.7,1358.1 1759.7,1358.9 1752.1,1365.4 1754.4,1375.1 1745.9,1369.9 1737.4,1375.1 1739.7,1365.4 1732.1,1358.9 1742.1,1358.1" fill="#808000" stroke="#808000" stroke-width="2.6" stroke-linejoin="round"/><circle cx="1746.9" cy="1363.4" r="2.2" fill="#fff" opacity="0.55"/>
<polygon points="1754.5,1337.4 1758.3,1346.6 1768.3,1347.4 1760.7,1353.9 1763.0,1363.6 1754.5,1358.4 1746.0,1363.6 1748.3,1353.9 1740.7,1347.4 1750.7,1346.6" fill="#808000" stroke="#808000" stroke-width="2.6" stroke-linejoin="round"/><circle cx="1755.5" cy="1351.9" r="2.2" fill="#fff" opacity="0.55"/>
<polygon points="1766.0,1330.2 1769.8,1339.4 1779.8,1340.2 1772.2,1346.7 1774.5,1356.4 1766.0,1351.2 1757.5,1356.4 1759.8,1346.7 1752.2,1340.2 1762.2,1339.4" fill="#808000" stroke="#808000" stroke-width="2.6" stroke-linejoin="round"/><circle cx="1767" cy="1344.7" r="2.2" fill="#fff" opacity="0.55"/>
<polygon points="1777.5,1324.4 1781.3,1333.6 1791.3,1334.4 1783.7,1340.9 1786.0,1350.6 1777.5,1345.4 1769.0,1350.6 1771.3,1340.9 1763.7,1334.4 1773.7,1333.6" fill="#808000" stroke="#808000" stroke-width="2.6" stroke-linejoin="round"/><circle cx="1778.5" cy="1338.9" r="2.2" fill="#fff" opacity="0.55"/>
<polygon points="1794.7,1318.7 1798.5,1327.9 1808.5,1328.7 1800.9,1335.2 1803.2,1344.9 1794.7,1339.7 1786.2,1344.9 1788.5,1335.2 1780.9,1328.7 1790.9,1327.9" fill="#808000" stroke="#808000" stroke-width="2.6" stroke-linejoin="round"/><circle cx="1795.7" cy="1333.2" r="2.2" fill="#fff" opacity="0.55"/>
<polygon points="1808.9,1316.7 1812.7,1325.9 1822.7,1326.7 1815.1,1333.2 1817.4,1342.9 1808.9,1337.7 1800.3,1342.9 1802.7,1333.2 1795.1,1326.7 1805.0,1325.9" fill="#808000" stroke="#808000" stroke-width="2.6" stroke-linejoin="round"/><circle cx="1809.8642857142859" cy="1331.1911915847675" r="2.2" fill="#fff" opacity="0.55"/>
<polygon points="1823.0,1315.0 1826.9,1324.2 1836.8,1325.0 1829.2,1331.5 1831.6,1341.2 1823.0,1336.0 1814.5,1341.2 1816.8,1331.5 1809.2,1325.0 1819.2,1324.2" fill="#808000" stroke="#808000" stroke-width="2.6" stroke-linejoin="round"/><circle cx="1824.0285714285715" cy="1329.4514309498222" r="2.2" fill="#fff" opacity="0.55"/>
<polygon points="1837.2,1313.3 1841.0,1322.5 1851.0,1323.3 1843.4,1329.8 1845.7,1339.5 1837.2,1334.3 1828.7,1339.5 1831.0,1329.8 1823.4,1323.3 1833.4,1322.5" fill="#808000" stroke="#808000" stroke-width="2.6" stroke-linejoin="round"/><circle cx="1838.192857142857" cy="1327.800573318519" r="2.2" fill="#fff" opacity="0.55"/>
<polygon points="1851.4,1311.7 1855.2,1320.9 1865.1,1321.7 1857.6,1328.2 1859.9,1337.9 1851.4,1332.7 1842.8,1337.9 1845.2,1328.2 1837.6,1321.7 1847.5,1320.9" fill="#808000" stroke="#808000" stroke-width="2.6" stroke-linejoin="round"/><circle cx="1852.357142857143" cy="1326.2049228102608" r="2.2" fill="#fff" opacity="0.55"/>
<polygon points="1865.5,1310.1 1869.4,1319.4 1879.3,1320.2 1871.7,1326.7 1874.0,1336.4 1865.5,1331.2 1857.0,1336.4 1859.3,1326.7 1851.7,1320.2 1861.7,1319.4" fill="#808000" stroke="#808000" stroke-width="2.6" stroke-linejoin="round"/><circle cx="1866.5214285714287" cy="1324.6491059970836" r="2.2" fill="#fff" opacity="0.55"/>
<polygon points="1879.7,1308.6 1883.5,1317.8 1893.5,1318.6 1885.9,1325.1 1888.2,1334.9 1879.7,1329.6 1871.2,1334.9 1873.5,1325.1 1865.9,1318.6 1875.9,1317.8" fill="#808000" stroke="#808000" stroke-width="2.6" stroke-linejoin="round"/><circle cx="1880.6857142857143" cy="1323.1243135415882" r="2.2" fill="#fff" opacity="0.55"/>
<polygon points="1893.8,1307.1 1897.7,1316.3 1907.6,1317.1 1900.1,1323.6 1902.4,1333.4 1893.8,1328.1 1885.3,1333.4 1887.6,1323.6 1880.1,1317.1 1890.0,1316.3" fill="#808000" stroke="#808000" stroke-width="2.6" stroke-linejoin="round"/><circle cx="1894.85" cy="1321.624846604608" r="2.2" fill="#fff" opacity="0.55"/>
<polygon points="1908.0,1305.6 1911.8,1314.9 1921.8,1315.7 1914.2,1322.2 1916.5,1331.9 1908.0,1326.7 1899.5,1331.9 1901.8,1322.2 1894.2,1315.7 1904.2,1314.9" fill="#808000" stroke="#808000" stroke-width="2.6" stroke-linejoin="round"/><circle cx="1909.0142857142857" cy="1320.1467244072535" r="2.2" fill="#fff" opacity="0.55"/>
<polygon points="1922.2,1304.2 1926.0,1313.4 1936.0,1314.2 1928.4,1320.7 1930.7,1330.4 1922.2,1325.2 1913.7,1330.4 1916.0,1320.7 1908.4,1314.2 1918.3,1313.4" fill="#808000" stroke="#808000" stroke-width="2.6" stroke-linejoin="round"/><circle cx="1923.1785714285716" cy="1318.6870139593113" r="2.2" fill="#fff" opacity="0.55"/>
<polygon points="1936.3,1302.7 1940.2,1312.0 1950.1,1312.8 1942.5,1319.3 1944.9,1329.0 1936.3,1323.8 1927.8,1329.0 1930.1,1319.3 1922.6,1312.8 1932.5,1312.0" fill="#808000" stroke="#808000" stroke-width="2.6" stroke-linejoin="round"/><circle cx="1937.3428571428572" cy="1317.2434675762895" r="2.2" fill="#fff" opacity="0.55"/>
<polygon points="1950.5,1301.3 1954.3,1310.5 1964.3,1311.3 1956.7,1317.8 1959.0,1327.5 1950.5,1322.3 1942.0,1327.5 1944.3,1317.8 1936.7,1311.3 1946.7,1310.5" fill="#808000" stroke="#808000" stroke-width="2.6" stroke-linejoin="round"/><circle cx="1951.5071428571428" cy="1315.8143098349176" r="2.2" fill="#fff" opacity="0.55"/>
<polygon points="1964.7,1299.9 1968.5,1309.1 1978.5,1309.9 1970.9,1316.4 1973.2,1326.1 1964.7,1320.9 1956.1,1326.1 1958.5,1316.4 1950.9,1309.9 1960.8,1309.1" fill="#808000" stroke="#808000" stroke-width="2.6" stroke-linejoin="round"/><circle cx="1965.6714285714286" cy="1314.398104243842" r="2.2" fill="#fff" opacity="0.55"/>
<polygon points="1978.8,1298.5 1982.7,1307.7 1992.6,1308.5 1985.0,1315.0 1987.4,1324.7 1978.8,1319.5 1970.3,1324.7 1972.6,1315.0 1965.0,1308.5 1975.0,1307.7" fill="#808000" stroke="#808000" stroke-width="2.6" stroke-linejoin="round"/><circle cx="1979.8357142857144" cy="1312.9936655930605" r="2.2" fill="#fff" opacity="0.55"/>
<polygon points="2062.0,1294.2 2065.8,1303.4 2075.8,1304.2 2068.2,1310.7 2070.5,1320.4 2062.0,1315.2 2053.5,1320.4 2055.8,1310.7 2048.2,1304.2 2058.2,1303.4" fill="#808000" stroke="#808000" stroke-width="2.6" stroke-linejoin="round"/><circle cx="2063" cy="1308.7" r="2.2" fill="#fff" opacity="0.55"/>
<polygon points="2070.7,1302.9 2074.5,1312.1 2084.5,1312.9 2076.9,1319.4 2079.2,1329.1 2070.7,1323.9 2062.2,1329.1 2064.5,1319.4 2056.9,1312.9 2066.9,1312.1" fill="#808000" stroke="#808000" stroke-width="2.6" stroke-linejoin="round"/><circle cx="2071.7" cy="1317.4" r="2.2" fill="#fff" opacity="0.55"/>
<polygon points="2088.0,1308.6 2091.8,1317.8 2101.8,1318.6 2094.2,1325.1 2096.5,1334.8 2088.0,1329.6 2079.5,1334.8 2081.8,1325.1 2074.2,1318.6 2084.2,1317.8" fill="#808000" stroke="#808000" stroke-width="2.6" stroke-linejoin="round"/><circle cx="2089" cy="1323.1" r="2.2" fill="#fff" opacity="0.55"/>
<polygon points="2101.4,1310.2 2105.2,1319.4 2115.2,1320.2 2107.6,1326.7 2109.9,1336.4 2101.4,1331.2 2092.9,1336.4 2095.2,1326.7 2087.6,1320.2 2097.6,1319.4" fill="#808000" stroke="#808000" stroke-width="2.6" stroke-linejoin="round"/><circle cx="2102.4" cy="1324.6999999999998" r="2.2" fill="#fff" opacity="0.55"/>
<polygon points="2114.8,1311.8 2118.6,1321.0 2128.6,1321.8 2121.0,1328.3 2123.3,1338.0 2114.8,1332.8 2106.3,1338.0 2108.6,1328.3 2101.0,1321.8 2111.0,1321.0" fill="#808000" stroke="#808000" stroke-width="2.6" stroke-linejoin="round"/><circle cx="2115.8" cy="1326.3" r="2.2" fill="#fff" opacity="0.55"/>
<polygon points="2128.2,1313.4 2132.0,1322.6 2142.0,1323.4 2134.4,1329.9 2136.7,1339.6 2128.2,1334.4 2119.7,1339.6 2122.0,1329.9 2114.4,1323.4 2124.4,1322.6" fill="#808000" stroke="#808000" stroke-width="2.6" stroke-linejoin="round"/><circle cx="2129.2" cy="1327.8999999999999" r="2.2" fill="#fff" opacity="0.55"/>
<polygon points="2141.6,1315.0 2145.4,1324.2 2155.4,1325.0 2147.8,1331.5 2150.1,1341.2 2141.6,1336.0 2133.1,1341.2 2135.4,1331.5 2127.8,1325.0 2137.8,1324.2" fill="#808000" stroke="#808000" stroke-width="2.6" stroke-linejoin="round"/><circle cx="2142.6" cy="1329.5" r="2.2" fill="#fff" opacity="0.55"/>
<polygon points="2155.0,1316.6 2158.8,1325.8 2168.8,1326.6 2161.2,1333.1 2163.5,1342.8 2155.0,1337.6 2146.5,1342.8 2148.8,1333.1 2141.2,1326.6 2151.2,1325.8" fill="#808000" stroke="#808000" stroke-width="2.6" stroke-linejoin="round"/><circle cx="2156.0" cy="1331.1" r="2.2" fill="#fff" opacity="0.55"/>
<polygon points="2168.4,1318.2 2172.2,1327.4 2182.2,1328.2 2174.6,1334.7 2176.9,1344.4 2168.4,1339.2 2159.9,1344.4 2162.2,1334.7 2154.6,1328.2 2164.6,1327.4" fill="#808000" stroke="#808000" stroke-width="2.6" stroke-linejoin="round"/><circle cx="2169.4" cy="1332.7" r="2.2" fill="#fff" opacity="0.55"/>
<polygon points="2181.8,1319.8 2185.6,1329.0 2195.6,1329.8 2188.0,1336.3 2190.3,1346.0 2181.8,1340.8 2173.3,1346.0 2175.6,1336.3 2168.0,1329.8 2178.0,1329.0" fill="#808000" stroke="#808000" stroke-width="2.6" stroke-linejoin="round"/><circle cx="2182.7999999999997" cy="1334.3" r="2.2" fill="#fff" opacity="0.55"/>
<polygon points="2195.2,1321.4 2199.0,1330.6 2209.0,1331.4 2201.4,1337.9 2203.7,1347.6 2195.2,1342.4 2186.7,1347.6 2189.0,1337.9 2181.4,1331.4 2191.4,1330.6" fill="#808000" stroke="#808000" stroke-width="2.6" stroke-linejoin="round"/><circle cx="2196.2" cy="1335.9" r="2.2" fill="#fff" opacity="0.55"/>
<polygon points="2208.6,1323.0 2212.4,1332.2 2222.4,1333.0 2214.8,1339.5 2217.1,1349.2 2208.6,1344.0 2200.1,1349.2 2202.4,1339.5 2194.8,1333.0 2204.8,1332.2" fill="#808000" stroke="#808000" stroke-width="2.6" stroke-linejoin="round"/><circle cx="2209.6" cy="1337.5" r="2.2" fill="#fff" opacity="0.55"/>
<polygon points="2225.9,1331.6 2229.7,1340.8 2239.7,1341.6 2232.1,1348.1 2234.4,1357.8 2225.9,1352.6 2217.4,1357.8 2219.7,1348.1 2212.1,1341.6 2222.1,1340.8" fill="#808000" stroke="#808000" stroke-width="2.6" stroke-linejoin="round"/><circle cx="2226.9" cy="1346.1" r="2.2" fill="#fff" opacity="0.55"/>
<polygon points="2240.3,1340.2 2244.1,1349.4 2254.1,1350.2 2246.5,1356.7 2248.8,1366.4 2240.3,1361.2 2231.8,1366.4 2234.1,1356.7 2226.5,1350.2 2236.5,1349.4" fill="#808000" stroke="#808000" stroke-width="2.6" stroke-linejoin="round"/><circle cx="2241.3" cy="1354.7" r="2.2" fill="#fff" opacity="0.55"/>
<polygon points="2251.8,1351.7 2255.6,1360.9 2265.6,1361.7 2258.0,1368.2 2260.3,1377.9 2251.8,1372.7 2243.3,1377.9 2245.6,1368.2 2238.0,1361.7 2248.0,1360.9" fill="#808000" stroke="#808000" stroke-width="2.6" stroke-linejoin="round"/><circle cx="2252.8" cy="1366.2" r="2.2" fill="#fff" opacity="0.55"/>
<polygon points="2260.4,1374.7 2264.2,1383.9 2274.2,1384.7 2266.6,1391.2 2268.9,1400.9 2260.4,1395.7 2251.9,1400.9 2254.2,1391.2 2246.6,1384.7 2256.6,1383.9" fill="#808000" stroke="#808000" stroke-width="2.6" stroke-linejoin="round"/><circle cx="2261.4" cy="1389.2" r="2.2" fill="#fff" opacity="0.55"/>
<polygon points="2257.5,1397.7 2261.3,1406.9 2271.3,1407.7 2263.7,1414.2 2266.0,1423.9 2257.5,1418.7 2249.0,1423.9 2251.3,1414.2 2243.7,1407.7 2253.7,1406.9" fill="#808000" stroke="#808000" stroke-width="2.6" stroke-linejoin="round"/><circle cx="2258.5" cy="1412.2" r="2.2" fill="#fff" opacity="0.55"/>
<polygon points="2260.4,1415.0 2264.2,1424.2 2274.2,1425.0 2266.6,1431.5 2268.9,1441.2 2260.4,1436.0 2251.9,1441.2 2254.2,1431.5 2246.6,1425.0 2256.6,1424.2" fill="#808000" stroke="#808000" stroke-width="2.6" stroke-linejoin="round"/><circle cx="2261.4" cy="1429.5" r="2.2" fill="#fff" opacity="0.55"/>
<polygon points="2367.6,1423.0 2370.5,1430.0 2378.1,1430.6 2372.3,1435.5 2374.1,1442.9 2367.6,1439.0 2361.1,1442.9 2362.9,1435.5 2357.1,1430.6 2364.7,1430.0" fill="#808000" stroke="#808000" stroke-width="2.6" stroke-linejoin="round"/><circle cx="2368.6" cy="1434" r="2.2" fill="#fff" opacity="0.55"/>
<polygon points="1739.7,1190.9 1743.5,1200.1 1753.5,1200.9 1745.9,1207.4 1748.2,1217.1 1739.7,1211.9 1731.2,1217.1 1733.5,1207.4 1725.9,1200.9 1735.9,1200.1" fill="#8a00f0" stroke="#8a00f0" stroke-width="2.6" stroke-linejoin="round"/><circle cx="1740.7" cy="1205.4" r="2.2" fill="#fff" opacity="0.55"/>
<polygon points="1738.7,1155.3 1742.5,1164.5 1752.5,1165.3 1744.9,1171.8 1747.2,1181.5 1738.7,1176.3 1730.2,1181.5 1732.5,1171.8 1724.9,1165.3 1734.9,1164.5" fill="#8a00f0" stroke="#8a00f0" stroke-width="2.6" stroke-linejoin="round"/><circle cx="1739.7" cy="1169.8" r="2.2" fill="#fff" opacity="0.55"/>
<polygon points="1739.7,1105.6 1743.5,1114.8 1753.5,1115.6 1745.9,1122.1 1748.2,1131.8 1739.7,1126.6 1731.2,1131.8 1733.5,1122.1 1725.9,1115.6 1735.9,1114.8" fill="#8a00f0" stroke="#8a00f0" stroke-width="2.6" stroke-linejoin="round"/><circle cx="1740.7" cy="1120.1" r="2.2" fill="#fff" opacity="0.55"/>
<polygon points="1753.7,1072.9 1757.5,1082.1 1767.5,1082.9 1759.9,1089.4 1762.2,1099.1 1753.7,1093.9 1745.2,1099.1 1747.5,1089.4 1739.9,1082.9 1749.9,1082.1" fill="#8a00f0" stroke="#8a00f0" stroke-width="2.6" stroke-linejoin="round"/><circle cx="1754.7" cy="1087.4" r="2.2" fill="#fff" opacity="0.55"/>
<polygon points="1765.9,1048.5 1769.7,1057.7 1779.7,1058.5 1772.1,1065.0 1774.4,1074.7 1765.9,1069.5 1757.4,1074.7 1759.7,1065.0 1752.1,1058.5 1762.1,1057.7" fill="#8a00f0" stroke="#8a00f0" stroke-width="2.6" stroke-linejoin="round"/><circle cx="1766.9" cy="1063" r="2.2" fill="#fff" opacity="0.55"/>
<polygon points="1776.2,1035.4 1780.0,1044.6 1790.0,1045.4 1782.4,1051.9 1784.7,1061.6 1776.2,1056.4 1767.7,1061.6 1770.0,1051.9 1762.4,1045.4 1772.4,1044.6" fill="#8a00f0" stroke="#8a00f0" stroke-width="2.6" stroke-linejoin="round"/><circle cx="1777.2" cy="1049.9" r="2.2" fill="#fff" opacity="0.55"/>
<polygon points="1785.0,1028.5 1788.8,1037.7 1798.8,1038.5 1791.2,1045.0 1793.5,1054.7 1785.0,1049.5 1776.5,1054.7 1778.8,1045.0 1771.2,1038.5 1781.2,1037.7" fill="#8a00f0" stroke="#8a00f0" stroke-width="2.6" stroke-linejoin="round"/><circle cx="1786" cy="1043" r="2.2" fill="#fff" opacity="0.55"/>
<polygon points="1794.9,1022.3 1798.7,1031.5 1808.7,1032.3 1801.1,1038.8 1803.4,1048.5 1794.9,1043.3 1786.4,1048.5 1788.7,1038.8 1781.1,1032.3 1791.1,1031.5" fill="#8a00f0" stroke="#8a00f0" stroke-width="2.6" stroke-linejoin="round"/><circle cx="1795.9" cy="1036.8" r="2.2" fill="#fff" opacity="0.55"/>
<polygon points="1809.0,1016.5 1812.8,1025.7 1822.8,1026.5 1815.2,1033.0 1817.5,1042.7 1809.0,1037.5 1800.5,1042.7 1802.8,1033.0 1795.2,1026.5 1805.2,1025.7" fill="#8a00f0" stroke="#8a00f0" stroke-width="2.6" stroke-linejoin="round"/><circle cx="1810" cy="1031" r="2.2" fill="#fff" opacity="0.55"/>
<polygon points="1823.0,1012.9 1826.8,1022.1 1836.8,1022.9 1829.2,1029.4 1831.5,1039.1 1823.0,1033.9 1814.5,1039.1 1816.8,1029.4 1809.2,1022.9 1819.2,1022.1" fill="#8a00f0" stroke="#8a00f0" stroke-width="2.6" stroke-linejoin="round"/><circle cx="1824" cy="1027.4" r="2.2" fill="#fff" opacity="0.55"/>
<polygon points="1837.0,1011.0 1840.8,1020.2 1850.8,1021.0 1843.2,1027.5 1845.5,1037.2 1837.0,1032.0 1828.5,1037.2 1830.8,1027.5 1823.2,1021.0 1833.2,1020.2" fill="#8a00f0" stroke="#8a00f0" stroke-width="2.6" stroke-linejoin="round"/><circle cx="1838" cy="1025.5" r="2.2" fill="#fff" opacity="0.55"/>
<polygon points="1851.1,1009.2 1854.9,1018.4 1864.9,1019.2 1857.3,1025.7 1859.6,1035.4 1851.1,1030.2 1842.6,1035.4 1844.9,1025.7 1837.3,1019.2 1847.3,1018.4" fill="#8a00f0" stroke="#8a00f0" stroke-width="2.6" stroke-linejoin="round"/><circle cx="1852.1" cy="1023.7" r="2.2" fill="#fff" opacity="0.55"/>
<polygon points="1865.6,1006.5 1869.4,1015.7 1879.4,1016.5 1871.8,1023.0 1874.1,1032.7 1865.6,1027.5 1857.1,1032.7 1859.4,1023.0 1851.8,1016.5 1861.8,1015.7" fill="#8a00f0" stroke="#8a00f0" stroke-width="2.6" stroke-linejoin="round"/><circle cx="1866.6" cy="1021" r="2.2" fill="#fff" opacity="0.55"/>
<polygon points="1880.1,1003.5 1883.9,1012.7 1893.9,1013.5 1886.3,1020.0 1888.6,1029.7 1880.1,1024.5 1871.6,1029.7 1873.9,1020.0 1866.3,1013.5 1876.3,1012.7" fill="#8a00f0" stroke="#8a00f0" stroke-width="2.6" stroke-linejoin="round"/><circle cx="1881.1" cy="1018" r="2.2" fill="#fff" opacity="0.55"/>
<polygon points="1893.7,1000.0 1897.5,1009.2 1907.5,1010.0 1899.9,1016.5 1902.2,1026.2 1893.7,1021.0 1885.2,1026.2 1887.5,1016.5 1879.9,1010.0 1889.9,1009.2" fill="#8a00f0" stroke="#8a00f0" stroke-width="2.6" stroke-linejoin="round"/><circle cx="1894.7" cy="1014.5" r="2.2" fill="#fff" opacity="0.55"/>
<polygon points="1907.3,996.1 1911.1,1005.3 1921.1,1006.1 1913.5,1012.6 1915.8,1022.3 1907.3,1017.1 1898.8,1022.3 1901.1,1012.6 1893.5,1006.1 1903.5,1005.3" fill="#8a00f0" stroke="#8a00f0" stroke-width="2.6" stroke-linejoin="round"/><circle cx="1908.3" cy="1010.6" r="2.2" fill="#fff" opacity="0.55"/>
<polygon points="1921.8,991.4 1925.6,1000.6 1935.6,1001.4 1928.0,1007.9 1930.3,1017.6 1921.8,1012.4 1913.3,1017.6 1915.6,1007.9 1908.0,1001.4 1918.0,1000.6" fill="#8a00f0" stroke="#8a00f0" stroke-width="2.6" stroke-linejoin="round"/><circle cx="1922.8" cy="1005.9" r="2.2" fill="#fff" opacity="0.55"/>
<polygon points="1936.3,986.7 1940.1,995.9 1950.1,996.7 1942.5,1003.2 1944.8,1012.9 1936.3,1007.7 1927.8,1012.9 1930.1,1003.2 1922.5,996.7 1932.5,995.9" fill="#8a00f0" stroke="#8a00f0" stroke-width="2.6" stroke-linejoin="round"/><circle cx="1937.3" cy="1001.2" r="2.2" fill="#fff" opacity="0.55"/>
<polygon points="1950.3,982.0 1954.1,991.2 1964.1,992.0 1956.5,998.5 1958.8,1008.2 1950.3,1003.0 1941.8,1008.2 1944.1,998.5 1936.5,992.0 1946.5,991.2" fill="#8a00f0" stroke="#8a00f0" stroke-width="2.6" stroke-linejoin="round"/><circle cx="1951.3" cy="996.5" r="2.2" fill="#fff" opacity="0.55"/>
<polygon points="1964.4,977.3 1968.2,986.5 1978.2,987.3 1970.6,993.8 1972.9,1003.5 1964.4,998.3 1955.9,1003.5 1958.2,993.8 1950.6,987.3 1960.6,986.5" fill="#8a00f0" stroke="#8a00f0" stroke-width="2.6" stroke-linejoin="round"/><circle cx="1965.4" cy="991.8" r="2.2" fill="#fff" opacity="0.55"/>
<polygon points="1978.4,974.5 1982.2,983.7 1992.2,984.5 1984.6,991.0 1986.9,1000.7 1978.4,995.5 1969.9,1000.7 1972.2,991.0 1964.6,984.5 1974.6,983.7" fill="#8a00f0" stroke="#8a00f0" stroke-width="2.6" stroke-linejoin="round"/><circle cx="1979.4" cy="989" r="2.2" fill="#fff" opacity="0.55"/>
<polygon points="1992.5,971.7 1996.3,980.9 2006.3,981.7 1998.7,988.2 2001.0,997.9 1992.5,992.7 1984.0,997.9 1986.3,988.2 1978.7,981.7 1988.7,980.9" fill="#8a00f0" stroke="#8a00f0" stroke-width="2.6" stroke-linejoin="round"/><circle cx="1993.5" cy="986.2" r="2.2" fill="#fff" opacity="0.55"/>
<polygon points="2062.4,973.6 2066.2,982.8 2076.2,983.6 2068.6,990.1 2070.9,999.8 2062.4,994.6 2053.9,999.8 2056.2,990.1 2048.6,983.6 2058.6,982.8" fill="#8a00f0" stroke="#8a00f0" stroke-width="2.6" stroke-linejoin="round"/><circle cx="2063.4" cy="988.1" r="2.2" fill="#fff" opacity="0.55"/>
<polygon points="2071.8,986.7 2075.6,995.9 2085.6,996.7 2078.0,1003.2 2080.3,1012.9 2071.8,1007.7 2063.3,1012.9 2065.6,1003.2 2058.0,996.7 2068.0,995.9" fill="#8a00f0" stroke="#8a00f0" stroke-width="2.6" stroke-linejoin="round"/><circle cx="2072.8" cy="1001.2" r="2.2" fill="#fff" opacity="0.55"/>
<polygon points="2079.3,994.2 2083.1,1003.4 2093.1,1004.2 2085.5,1010.7 2087.8,1020.4 2079.3,1015.2 2070.8,1020.4 2073.1,1010.7 2065.5,1004.2 2075.5,1003.4" fill="#8a00f0" stroke="#8a00f0" stroke-width="2.6" stroke-linejoin="round"/><circle cx="2080.3" cy="1008.7" r="2.2" fill="#fff" opacity="0.55"/>
<polygon points="2092.4,1001.7 2096.2,1010.9 2106.2,1011.7 2098.6,1018.2 2100.9,1027.9 2092.4,1022.7 2083.9,1027.9 2086.2,1018.2 2078.6,1011.7 2088.6,1010.9" fill="#8a00f0" stroke="#8a00f0" stroke-width="2.6" stroke-linejoin="round"/><circle cx="2093.4" cy="1016.2" r="2.2" fill="#fff" opacity="0.55"/>
<polygon points="2107.3,1009.2 2111.1,1018.4 2121.1,1019.2 2113.5,1025.7 2115.8,1035.4 2107.3,1030.2 2098.8,1035.4 2101.1,1025.7 2093.5,1019.2 2103.5,1018.4" fill="#8a00f0" stroke="#8a00f0" stroke-width="2.6" stroke-linejoin="round"/><circle cx="2108.3" cy="1023.7" r="2.2" fill="#fff" opacity="0.55"/>
<polygon points="2120.4,1014.8 2124.2,1024.0 2134.2,1024.8 2126.6,1031.3 2128.9,1041.0 2120.4,1035.8 2111.9,1041.0 2114.2,1031.3 2106.6,1024.8 2116.6,1024.0" fill="#8a00f0" stroke="#8a00f0" stroke-width="2.6" stroke-linejoin="round"/><circle cx="2121.4" cy="1029.3" r="2.2" fill="#fff" opacity="0.55"/>
<polygon points="2133.6,1017.6 2137.4,1026.8 2147.4,1027.6 2139.8,1034.1 2142.1,1043.8 2133.6,1038.6 2125.1,1043.8 2127.4,1034.1 2119.8,1027.6 2129.8,1026.8" fill="#8a00f0" stroke="#8a00f0" stroke-width="2.6" stroke-linejoin="round"/><circle cx="2134.6" cy="1032.1" r="2.2" fill="#fff" opacity="0.55"/>
<polygon points="2148.5,1019.5 2152.3,1028.7 2162.3,1029.5 2154.7,1036.0 2157.0,1045.7 2148.5,1040.5 2140.0,1045.7 2142.3,1036.0 2134.7,1029.5 2144.7,1028.7" fill="#8a00f0" stroke="#8a00f0" stroke-width="2.6" stroke-linejoin="round"/><circle cx="2149.5" cy="1034" r="2.2" fill="#fff" opacity="0.55"/>
<polygon points="2161.6,1020.4 2165.4,1029.6 2175.4,1030.4 2167.8,1036.9 2170.1,1046.6 2161.6,1041.4 2153.1,1046.6 2155.4,1036.9 2147.8,1030.4 2157.8,1029.6" fill="#8a00f0" stroke="#8a00f0" stroke-width="2.6" stroke-linejoin="round"/><circle cx="2162.6" cy="1034.9" r="2.2" fill="#fff" opacity="0.55"/>
<polygon points="2174.8,1022.3 2178.6,1031.5 2188.6,1032.3 2181.0,1038.8 2183.3,1048.5 2174.8,1043.3 2166.3,1048.5 2168.6,1038.8 2161.0,1032.3 2171.0,1031.5" fill="#8a00f0" stroke="#8a00f0" stroke-width="2.6" stroke-linejoin="round"/><circle cx="2175.8" cy="1036.8" r="2.2" fill="#fff" opacity="0.55"/>
<polygon points="2187.9,1026.0 2191.7,1035.2 2201.7,1036.0 2194.1,1042.5 2196.4,1052.2 2187.9,1047.0 2179.4,1052.2 2181.7,1042.5 2174.1,1036.0 2184.1,1035.2" fill="#8a00f0" stroke="#8a00f0" stroke-width="2.6" stroke-linejoin="round"/><circle cx="2188.9" cy="1040.5" r="2.2" fill="#fff" opacity="0.55"/>
<polygon points="2201.0,1031.6 2204.8,1040.8 2214.8,1041.6 2207.2,1048.1 2209.5,1057.8 2201.0,1052.6 2192.5,1057.8 2194.8,1048.1 2187.2,1041.6 2197.2,1040.8" fill="#8a00f0" stroke="#8a00f0" stroke-width="2.6" stroke-linejoin="round"/><circle cx="2202" cy="1046.1" r="2.2" fill="#fff" opacity="0.55"/>
<polygon points="2214.1,1038.2 2217.9,1047.4 2227.9,1048.2 2220.3,1054.7 2222.6,1064.4 2214.1,1059.2 2205.6,1064.4 2207.9,1054.7 2200.3,1048.2 2210.3,1047.4" fill="#8a00f0" stroke="#8a00f0" stroke-width="2.6" stroke-linejoin="round"/><circle cx="2215.1" cy="1052.7" r="2.2" fill="#fff" opacity="0.55"/>
<polygon points="2225.3,1046.6 2229.1,1055.8 2239.1,1056.6 2231.5,1063.1 2233.8,1072.8 2225.3,1067.6 2216.8,1072.8 2219.1,1063.1 2211.5,1056.6 2221.5,1055.8" fill="#8a00f0" stroke="#8a00f0" stroke-width="2.6" stroke-linejoin="round"/><circle cx="2226.3" cy="1061.1" r="2.2" fill="#fff" opacity="0.55"/>
<polygon points="2232.8,1056.0 2236.6,1065.2 2246.6,1066.0 2239.0,1072.5 2241.3,1082.2 2232.8,1077.0 2224.3,1082.2 2226.6,1072.5 2219.0,1066.0 2229.0,1065.2" fill="#8a00f0" stroke="#8a00f0" stroke-width="2.6" stroke-linejoin="round"/><circle cx="2233.8" cy="1070.5" r="2.2" fill="#fff" opacity="0.55"/>
<polygon points="2245.9,1084.1 2249.7,1093.3 2259.7,1094.1 2252.1,1100.6 2254.4,1110.3 2245.9,1105.1 2237.4,1110.3 2239.7,1100.6 2232.1,1094.1 2242.1,1093.3" fill="#8a00f0" stroke="#8a00f0" stroke-width="2.6" stroke-linejoin="round"/><circle cx="2246.9" cy="1098.6" r="2.2" fill="#fff" opacity="0.55"/>
<polygon points="2260.0,1132.8 2263.8,1142.0 2273.8,1142.8 2266.2,1149.3 2268.5,1159.0 2260.0,1153.8 2251.5,1159.0 2253.8,1149.3 2246.2,1142.8 2256.2,1142.0" fill="#8a00f0" stroke="#8a00f0" stroke-width="2.6" stroke-linejoin="round"/><circle cx="2261" cy="1147.3" r="2.2" fill="#fff" opacity="0.55"/>
<polygon points="2260.0,1181.5 2263.8,1190.7 2273.8,1191.5 2266.2,1198.0 2268.5,1207.7 2260.0,1202.5 2251.5,1207.7 2253.8,1198.0 2246.2,1191.5 2256.2,1190.7" fill="#8a00f0" stroke="#8a00f0" stroke-width="2.6" stroke-linejoin="round"/><circle cx="2261" cy="1196" r="2.2" fill="#fff" opacity="0.55"/>
<polygon points="2260.0,1222.7 2263.8,1231.9 2273.8,1232.7 2266.2,1239.2 2268.5,1248.9 2260.0,1243.7 2251.5,1248.9 2253.8,1239.2 2246.2,1232.7 2256.2,1231.9" fill="#8a00f0" stroke="#8a00f0" stroke-width="2.6" stroke-linejoin="round"/><circle cx="2261" cy="1237.2" r="2.2" fill="#fff" opacity="0.55"/>
<polygon points="1738.7,1222.3 1751.1,1231.3 1746.3,1245.8 1731.1,1245.8 1726.3,1231.3" fill="#fff" stroke="#8a00f0" stroke-width="4" stroke-linejoin="round"/><polygon points="1738.7,1222.3 1751.1,1231.3 1746.3,1245.8 1738.7,1245.8" fill="#8a00f0" stroke="#8a00f0" stroke-width="4" stroke-linejoin="round"/>
<polygon points="2367.6,1226.0 2370.5,1233.0 2378.1,1233.6 2372.3,1238.5 2374.1,1245.9 2367.6,1242.0 2361.1,1245.9 2362.9,1238.5 2357.1,1233.6 2364.7,1233.0" fill="#8a00f0" stroke="#8a00f0" stroke-width="2.6" stroke-linejoin="round"/><circle cx="2368.6" cy="1237" r="2.2" fill="#fff" opacity="0.55"/>
<rect x="246.5" y="887" width="2126" height="632" fill="none" stroke="#7b7b7b" stroke-width="8.5" stroke-linejoin="round"/>
<line x1="225" y1="972.4" x2="247" y2="972.4" stroke="#7b7b7b" stroke-width="8" stroke-linecap="round"/>
<text x="209" y="990.4" text-anchor="end" class="s" font-size="55">4</text>
<line x1="225" y1="1139.8" x2="247" y2="1139.8" stroke="#7b7b7b" stroke-width="8" stroke-linecap="round"/>
<text x="209" y="1157.8" text-anchor="end" class="s" font-size="55">3</text>
<line x1="225" y1="1307.2" x2="247" y2="1307.2" stroke="#7b7b7b" stroke-width="8" stroke-linecap="round"/>
<text x="209" y="1325.2" text-anchor="end" class="s" font-size="55">2</text>
<line x1="225" y1="1474.6" x2="247" y2="1474.6" stroke="#7b7b7b" stroke-width="8" stroke-linecap="round"/>
<text x="209" y="1492.6" text-anchor="end" class="s" font-size="55">1</text>
<line x1="236" y1="1056.1" x2="247" y2="1056.1" stroke="#7b7b7b" stroke-width="8" stroke-linecap="round"/>
<line x1="236" y1="1223.5" x2="247" y2="1223.5" stroke="#7b7b7b" stroke-width="8" stroke-linecap="round"/>
<line x1="236" y1="1390.9" x2="247" y2="1390.9" stroke="#7b7b7b" stroke-width="8" stroke-linecap="round"/>
<line x1="260.5" y1="1519" x2="260.5" y2="1540" stroke="#7b7b7b" stroke-width="8" stroke-linecap="round"/>
<text x="260.5" y="1596" text-anchor="middle" class="s" font-size="55">0.00</text>
<line x1="366.1" y1="1519" x2="366.1" y2="1532" stroke="#7b7b7b" stroke-width="8" stroke-linecap="round"/>
<line x1="471.7" y1="1519" x2="471.7" y2="1540" stroke="#7b7b7b" stroke-width="8" stroke-linecap="round"/>
<text x="471.7" y="1596" text-anchor="middle" class="s" font-size="55">0.15</text>
<line x1="577.3" y1="1519" x2="577.3" y2="1532" stroke="#7b7b7b" stroke-width="8" stroke-linecap="round"/>
<line x1="682.9" y1="1519" x2="682.9" y2="1540" stroke="#7b7b7b" stroke-width="8" stroke-linecap="round"/>
<text x="682.9" y="1596" text-anchor="middle" class="s" font-size="55">0.30</text>
<line x1="788.5" y1="1519" x2="788.5" y2="1532" stroke="#7b7b7b" stroke-width="8" stroke-linecap="round"/>
<line x1="894.1" y1="1519" x2="894.1" y2="1540" stroke="#7b7b7b" stroke-width="8" stroke-linecap="round"/>
<text x="894.1" y="1596" text-anchor="middle" class="s" font-size="55">0.45</text>
<line x1="999.7" y1="1519" x2="999.7" y2="1532" stroke="#7b7b7b" stroke-width="8" stroke-linecap="round"/>
<line x1="1105.3" y1="1519" x2="1105.3" y2="1540" stroke="#7b7b7b" stroke-width="8" stroke-linecap="round"/>
<text x="1105.3" y="1596" text-anchor="middle" class="s" font-size="55">0.60</text>
<line x1="1210.9" y1="1519" x2="1210.9" y2="1532" stroke="#7b7b7b" stroke-width="8" stroke-linecap="round"/>
<line x1="1316.5" y1="1519" x2="1316.5" y2="1540" stroke="#7b7b7b" stroke-width="8" stroke-linecap="round"/>
<text x="1316.5" y="1596" text-anchor="middle" class="s" font-size="55">0.75</text>
<line x1="1422.1" y1="1519" x2="1422.1" y2="1532" stroke="#7b7b7b" stroke-width="8" stroke-linecap="round"/>
<line x1="1527.7" y1="1519" x2="1527.7" y2="1540" stroke="#7b7b7b" stroke-width="8" stroke-linecap="round"/>
<text x="1527.7" y="1596" text-anchor="middle" class="s" font-size="55">0.90</text>
<line x1="1633.3" y1="1519" x2="1633.3" y2="1532" stroke="#7b7b7b" stroke-width="8" stroke-linecap="round"/>
<line x1="1738.9" y1="1519" x2="1738.9" y2="1540" stroke="#7b7b7b" stroke-width="8" stroke-linecap="round"/>
<text x="1738.9" y="1596" text-anchor="middle" class="s" font-size="55">1.05</text>
<line x1="1844.5" y1="1519" x2="1844.5" y2="1532" stroke="#7b7b7b" stroke-width="8" stroke-linecap="round"/>
<line x1="1950.1" y1="1519" x2="1950.1" y2="1540" stroke="#7b7b7b" stroke-width="8" stroke-linecap="round"/>
<text x="1950.1" y="1596" text-anchor="middle" class="s" font-size="55">1.20</text>
<line x1="2055.7" y1="1519" x2="2055.7" y2="1532" stroke="#7b7b7b" stroke-width="8" stroke-linecap="round"/>
<line x1="2161.3" y1="1519" x2="2161.3" y2="1540" stroke="#7b7b7b" stroke-width="8" stroke-linecap="round"/>
<text x="2161.3" y="1596" text-anchor="middle" class="s" font-size="55">1.35</text>
<line x1="2266.9" y1="1519" x2="2266.9" y2="1532" stroke="#7b7b7b" stroke-width="8" stroke-linecap="round"/>
<line x1="2372.5" y1="1519" x2="2372.5" y2="1540" stroke="#7b7b7b" stroke-width="8" stroke-linecap="round"/>
<text x="2372.5" y="1596" text-anchor="middle" class="s" font-size="55">1.50</text>
<text x="1318" y="1663" text-anchor="middle" class="s" font-size="58">Time (h)</text>
<text transform="translate(108,1207.6) rotate(-90)" text-anchor="middle" class="s" font-size="61">Voltage (V vs. Zn)</text>
<rect x="885" y="940" width="100" height="90" fill="#fff"/>
<rect x="264" y="896" width="122" height="105" fill="#fdfdfd"/>
<text x="283" y="975" class="s" font-weight="bold" font-size="82">(c)</text>
<text x="721" y="968" text-anchor="middle" class="s" font-size="88">I</text>
<text x="1660" y="977" text-anchor="middle" class="s" font-size="88">II</text>
<text x="2312" y="981" text-anchor="middle" class="s" font-size="88">III</text>
<text x="520" y="1208" text-anchor="middle" class="s" font-weight="bold" font-size="50" fill="#1830c4">Work as zinc-cobalt</text>
<text x="496" y="1267" text-anchor="middle" class="s" font-weight="bold" font-size="50" fill="#1830c4">oxide battery</text>
<text x="507" y="1408" text-anchor="middle" class="s" font-weight="bold" font-size="50">(Redox reaction)</text>
<text x="512" y="1480" text-anchor="middle" class="s" font-size="55">Without oxygen</text>
<line x1="275" y1="1460" x2="313" y2="1460" stroke="#000" stroke-width="4"/>
<polygon points="259,1460 280,1452 280,1468" fill="#000"/>
<line x1="696" y1="1460" x2="740" y2="1460" stroke="#000" stroke-width="4"/>
<polygon points="756,1460 735,1452 735,1468" fill="#000"/>
<text x="1231" y="1181.5" text-anchor="middle" class="s" font-weight="bold" font-size="50" fill="#e00e0e">Work as zinc-air battery</text>
<text x="1253" y="1371" text-anchor="middle" class="s" font-weight="bold" font-size="50">(ORR)</text>
<line x1="815" y1="1476" x2="1357" y2="1476" stroke="#000" stroke-width="4"/>
<polygon points="798,1476 820,1467 820,1485" fill="#000"/>
<text x="1538" y="1496" text-anchor="middle" class="s" font-size="55">With oxygen</text>
<line x1="1719" y1="1473" x2="2325" y2="1473" stroke="#000" stroke-width="4"/>
<polygon points="2346,1473 2322,1464 2322,1482" fill="#000"/>
<text x="2018" y="1139" text-anchor="middle" class="s" font-weight="bold" font-size="50" fill="#8a10e0">Work as zinc cobalt</text>
<text x="1980" y="1203" text-anchor="middle" class="s" font-weight="bold" font-size="50" fill="#8a10e0">oxide/zinc-air hybrid</text>
<text x="2010" y="1254" text-anchor="middle" class="s" font-weight="bold" font-size="50" fill="#8a10e0">battery</text>
<text x="2008" y="1394" text-anchor="middle" class="s" font-weight="bold" font-size="50">(Redox reaction and</text>
<text x="1936" y="1456" text-anchor="middle" class="s" font-weight="bold" font-size="50">ORR/OER )</text>
</svg>
</body></html>
